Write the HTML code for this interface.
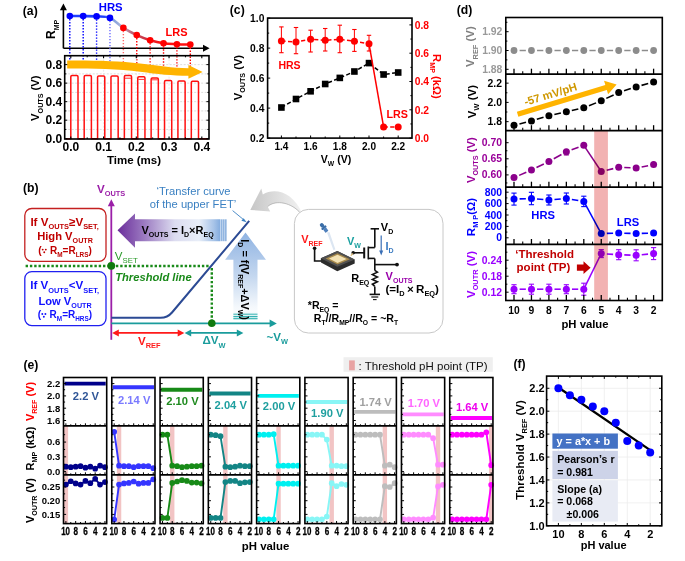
<!DOCTYPE html>
<html><head><meta charset="utf-8"><title>Figure</title><style>html,body{margin:0;padding:0;background:#fff;width:685px;height:561px;overflow:hidden;}svg{display:block;font-family:"Liberation Sans", sans-serif;}</style></head><body>
<svg width="685" height="561" viewBox="0 0 685 561" font-family='"Liberation Sans", sans-serif'><defs><linearGradient id="ga" x1="63" y1="0" x2="210" y2="0" gradientUnits="userSpaceOnUse"><stop offset="0.28" stop-color="#1f3fff"/><stop offset="0.34" stop-color="#7f9fdf"/><stop offset="0.40" stop-color="#b0b8d8"/><stop offset="0.47" stop-color="#c06070"/><stop offset="0.56" stop-color="#d03040"/><stop offset="0.66" stop-color="#ff1010"/></linearGradient><linearGradient id="gp" x1="117" y1="0" x2="222" y2="0" gradientUnits="userSpaceOnUse"><stop offset="0" stop-color="#6a2c9a"/><stop offset="0.25" stop-color="#9a78c0"/><stop offset="0.55" stop-color="#dcdcf0"/><stop offset="0.78" stop-color="#e8eef8"/><stop offset="0.92" stop-color="#a8c4e8"/><stop offset="1" stop-color="#7aa6dc"/></linearGradient><linearGradient id="gu" x1="0" y1="232" x2="0" y2="320" gradientUnits="userSpaceOnUse"><stop offset="0" stop-color="#8fb3e2"/><stop offset="0.5" stop-color="#c4d7ef"/><stop offset="0.85" stop-color="#f4f8fc"/><stop offset="1" stop-color="#ffffff"/></linearGradient><linearGradient id="gt" x1="0" y1="310" x2="0" y2="319.3" gradientUnits="userSpaceOnUse"><stop offset="0" stop-color="#ffffff" stop-opacity="0"/><stop offset="1" stop-color="#a8dede"/></linearGradient><linearGradient id="gg" x1="302" y1="0" x2="250" y2="0" gradientUnits="userSpaceOnUse"><stop offset="0" stop-color="#f2f2f2"/><stop offset="0.6" stop-color="#d8d8d8"/><stop offset="1" stop-color="#c6c6c6"/></linearGradient></defs><rect width="685" height="561" fill="#fff"/><text x="22.8" y="14.6" font-size="12.2" fill="#000" font-weight="bold" text-anchor="start">(a)</text>
<line x1="63.4" y1="48.3" x2="63.4" y2="9" stroke="#000" stroke-width="1.6" />
<polygon points="63.4,3.5 59.9,10.2 66.9,10.2" fill="#000" />
<line x1="63.4" y1="48.3" x2="203.5" y2="48.3" stroke="#000" stroke-width="1.6" />
<polygon points="209.6,48.3 203,44.8 203,51.8" fill="#000" />
<text x="55.4" y="29.4" font-size="12" fill="#000" font-weight="bold" text-anchor="middle" transform="rotate(-90 55.4 29.4)"><tspan font-size="12">R</tspan><tspan dy="3.36" font-size="6.96">MP</tspan></text>
<line x1="69.8" y1="16" x2="69.8" y2="61.5" stroke="#0000ff" stroke-width="1.4" stroke-dasharray="1.4 1.6"/>
<line x1="83.19" y1="16.1" x2="83.19" y2="61.8" stroke="#0000ff" stroke-width="1.4" stroke-dasharray="1.4 1.6"/>
<line x1="96.58" y1="16.4" x2="96.58" y2="62.2" stroke="#0000ff" stroke-width="1.4" stroke-dasharray="1.4 1.6"/>
<line x1="109.97" y1="17.9" x2="109.97" y2="62.6" stroke="#6a6aff" stroke-width="1.4" stroke-dasharray="1.4 1.6"/>
<line x1="123.36" y1="27.9" x2="123.36" y2="63.5" stroke="#ff6a6a" stroke-width="1.4" stroke-dasharray="1.4 1.6"/>
<line x1="136.75" y1="35.1" x2="136.75" y2="64.6" stroke="#ff0000" stroke-width="1.4" stroke-dasharray="1.4 1.6"/>
<line x1="150.14" y1="40.2" x2="150.14" y2="65.6" stroke="#ff0000" stroke-width="1.4" stroke-dasharray="1.4 1.6"/>
<line x1="163.53" y1="43.3" x2="163.53" y2="66.8" stroke="#ff0000" stroke-width="1.4" stroke-dasharray="1.4 1.6"/>
<line x1="176.92" y1="44.2" x2="176.92" y2="68" stroke="#ff0000" stroke-width="1.4" stroke-dasharray="1.4 1.6"/>
<line x1="190.31" y1="44.6" x2="190.31" y2="69" stroke="#ff0000" stroke-width="1.4" stroke-dasharray="1.4 1.6"/>
<path d="M69.8 16 C72.03 16.02 78.73 16.03 83.19 16.1 C87.65 16.17 92.12 16.1 96.58 16.4 C101.04 16.7 105.51 15.98 109.97 17.9 C114.43 19.82 118.9 25.03 123.36 27.9 C127.82 30.77 132.29 33.05 136.75 35.1 C141.21 37.15 145.68 38.83 150.14 40.2 C154.6 41.57 159.07 42.63 163.53 43.3 C167.99 43.97 172.46 43.98 176.92 44.2 C181.38 44.42 188.08 44.53 190.31 44.6" fill="none" stroke="url(#ga)" stroke-width="2.6" />
<circle cx="69.8" cy="16" r="3.3" fill="#0000ff" />
<circle cx="83.19" cy="16.1" r="3.3" fill="#0000ff" />
<circle cx="96.58" cy="16.4" r="3.3" fill="#0000ff" />
<circle cx="109.97" cy="17.9" r="3.3" fill="#0000ff" />
<circle cx="123.36" cy="27.9" r="3.3" fill="#ff0000" />
<circle cx="136.75" cy="35.1" r="3.3" fill="#ff0000" />
<circle cx="150.14" cy="40.2" r="3.3" fill="#ff0000" />
<circle cx="163.53" cy="43.3" r="3.3" fill="#ff0000" />
<circle cx="176.92" cy="44.2" r="3.3" fill="#ff0000" />
<circle cx="190.31" cy="44.6" r="3.3" fill="#ff0000" />
<text x="98.8" y="10.8" font-size="11.3" fill="#0000ff" font-weight="bold" text-anchor="start">HRS</text>
<text x="165.6" y="35.8" font-size="11" fill="#ff0000" font-weight="bold" text-anchor="start">LRS</text>
<line x1="64.7" y1="129.44" x2="209" y2="129.44" stroke="#cfcfcf" stroke-width="0.7" stroke-dasharray="2 1.5"/>
<line x1="64.7" y1="120.18" x2="209" y2="120.18" stroke="#cfcfcf" stroke-width="0.7" stroke-dasharray="2 1.5"/>
<line x1="64.7" y1="110.92" x2="209" y2="110.92" stroke="#cfcfcf" stroke-width="0.7" stroke-dasharray="2 1.5"/>
<line x1="64.7" y1="101.66" x2="209" y2="101.66" stroke="#cfcfcf" stroke-width="0.7" stroke-dasharray="2 1.5"/>
<line x1="64.7" y1="92.4" x2="209" y2="92.4" stroke="#cfcfcf" stroke-width="0.7" stroke-dasharray="2 1.5"/>
<line x1="64.7" y1="83.14" x2="209" y2="83.14" stroke="#cfcfcf" stroke-width="0.7" stroke-dasharray="2 1.5"/>
<line x1="64.7" y1="73.88" x2="209" y2="73.88" stroke="#cfcfcf" stroke-width="0.7" stroke-dasharray="2 1.5"/>
<line x1="64.7" y1="64.62" x2="209" y2="64.62" stroke="#cfcfcf" stroke-width="0.7" stroke-dasharray="2 1.5"/>
<line x1="103.55" y1="55.7" x2="103.55" y2="139" stroke="#e0e0e0" stroke-width="0.7" stroke-dasharray="2 1.5"/>
<line x1="136.3" y1="55.7" x2="136.3" y2="139" stroke="#e0e0e0" stroke-width="0.7" stroke-dasharray="2 1.5"/>
<line x1="169.05" y1="55.7" x2="169.05" y2="139" stroke="#e0e0e0" stroke-width="0.7" stroke-dasharray="2 1.5"/>
<path d="M65.5 138.7 L70.8 138.7 L70.8 76.8 Q70.8 75.6 72 75.6 L76.8 75.6 Q78 75.6 78 76.8 L78 138.7 L84.19 138.7 L84.19 76.8 Q84.19 75.6 85.39 75.6 L90.19 75.6 Q91.39 75.6 91.39 76.8 L91.39 138.7 L97.58 138.7 L97.58 77.1 Q97.58 75.9 98.78 75.9 L103.58 75.9 Q104.78 75.9 104.78 77.1 L104.78 138.7 L110.97 138.7 L110.97 77.2 Q110.97 76 112.17 76 L116.97 76 Q118.17 76 118.17 77.2 L118.17 138.7 L124.36 138.7 L124.36 76.7 Q124.36 75.5 125.56 75.5 L130.36 75.5 Q131.56 75.5 131.56 76.7 L131.56 138.7 L137.75 138.7 L137.75 78 Q137.75 76.8 138.95 76.8 L143.75 76.8 Q144.95 76.8 144.95 78 L144.95 138.7 L151.14 138.7 L151.14 79.2 Q151.14 78 152.34 78 L157.14 78 Q158.34 78 158.34 79.2 L158.34 138.7 L164.53 138.7 L164.53 81.8 Q164.53 80.6 165.73 80.6 L170.53 80.6 Q171.73 80.6 171.73 81.8 L171.73 138.7 L177.92 138.7 L177.92 82.2 Q177.92 81 179.12 81 L183.92 81 Q185.12 81 185.12 82.2 L185.12 138.7 L191.31 138.7 L191.31 82.5 Q191.31 81.3 192.51 81.3 L197.31 81.3 Q198.51 81.3 198.51 82.5 L198.51 138.7 L208.2 138.7" fill="none" stroke="#ff1010" stroke-width="1.5" />
<line x1="124.96" y1="78.2" x2="130.96" y2="78.2" stroke="#ff1a1a" stroke-width="0.9" />
<line x1="138.35" y1="79.4" x2="144.35" y2="79.4" stroke="#ff1a1a" stroke-width="0.9" />
<line x1="151.74" y1="79.8" x2="157.74" y2="79.8" stroke="#ff1a1a" stroke-width="0.9" />
<path d="M67.2 60.6 C95 60.4 118 61.0 140 63.5 C158 65.6 172 68.0 188.4 68.2 L188.4 65.0 L202.6 71.9 L188.4 78.8 L188.4 75.8 C172 75.8 158 74.2 140 71.8 C118 69.0 95 68.6 67.2 68.6 Z" fill="#ffb400" stroke="none" stroke-width="1" />
<rect x="64.7" y="55.7" width="144.3" height="83.3" fill="none" stroke="#000" stroke-width="1.6" rx="0" />
<line x1="70.8" y1="139" x2="70.8" y2="136.4" stroke="#000" stroke-width="1.1" />
<line x1="70.8" y1="55.7" x2="70.8" y2="58.3" stroke="#000" stroke-width="1.1" />
<line x1="87.2" y1="139" x2="87.2" y2="137.4" stroke="#000" stroke-width="1" />
<line x1="87.2" y1="55.7" x2="87.2" y2="57.3" stroke="#000" stroke-width="1" />
<line x1="103.55" y1="139" x2="103.55" y2="136.4" stroke="#000" stroke-width="1.1" />
<line x1="103.55" y1="55.7" x2="103.55" y2="58.3" stroke="#000" stroke-width="1.1" />
<line x1="119.95" y1="139" x2="119.95" y2="137.4" stroke="#000" stroke-width="1" />
<line x1="119.95" y1="55.7" x2="119.95" y2="57.3" stroke="#000" stroke-width="1" />
<line x1="136.3" y1="139" x2="136.3" y2="136.4" stroke="#000" stroke-width="1.1" />
<line x1="136.3" y1="55.7" x2="136.3" y2="58.3" stroke="#000" stroke-width="1.1" />
<line x1="152.7" y1="139" x2="152.7" y2="137.4" stroke="#000" stroke-width="1" />
<line x1="152.7" y1="55.7" x2="152.7" y2="57.3" stroke="#000" stroke-width="1" />
<line x1="169.05" y1="139" x2="169.05" y2="136.4" stroke="#000" stroke-width="1.1" />
<line x1="169.05" y1="55.7" x2="169.05" y2="58.3" stroke="#000" stroke-width="1.1" />
<line x1="185.45" y1="139" x2="185.45" y2="137.4" stroke="#000" stroke-width="1" />
<line x1="185.45" y1="55.7" x2="185.45" y2="57.3" stroke="#000" stroke-width="1" />
<line x1="201.8" y1="139" x2="201.8" y2="136.4" stroke="#000" stroke-width="1.1" />
<line x1="201.8" y1="55.7" x2="201.8" y2="58.3" stroke="#000" stroke-width="1.1" />
<line x1="64.7" y1="138.7" x2="67.3" y2="138.7" stroke="#000" stroke-width="1" />
<line x1="209" y1="138.7" x2="206.4" y2="138.7" stroke="#000" stroke-width="1" />
<line x1="64.7" y1="129.44" x2="66.3" y2="129.44" stroke="#000" stroke-width="1" />
<line x1="209" y1="129.44" x2="207.4" y2="129.44" stroke="#000" stroke-width="1" />
<line x1="64.7" y1="120.18" x2="67.3" y2="120.18" stroke="#000" stroke-width="1" />
<line x1="209" y1="120.18" x2="206.4" y2="120.18" stroke="#000" stroke-width="1" />
<line x1="64.7" y1="110.92" x2="66.3" y2="110.92" stroke="#000" stroke-width="1" />
<line x1="209" y1="110.92" x2="207.4" y2="110.92" stroke="#000" stroke-width="1" />
<line x1="64.7" y1="101.66" x2="67.3" y2="101.66" stroke="#000" stroke-width="1" />
<line x1="209" y1="101.66" x2="206.4" y2="101.66" stroke="#000" stroke-width="1" />
<line x1="64.7" y1="92.4" x2="66.3" y2="92.4" stroke="#000" stroke-width="1" />
<line x1="209" y1="92.4" x2="207.4" y2="92.4" stroke="#000" stroke-width="1" />
<line x1="64.7" y1="83.14" x2="67.3" y2="83.14" stroke="#000" stroke-width="1" />
<line x1="209" y1="83.14" x2="206.4" y2="83.14" stroke="#000" stroke-width="1" />
<line x1="64.7" y1="73.88" x2="66.3" y2="73.88" stroke="#000" stroke-width="1" />
<line x1="209" y1="73.88" x2="207.4" y2="73.88" stroke="#000" stroke-width="1" />
<line x1="64.7" y1="64.62" x2="67.3" y2="64.62" stroke="#000" stroke-width="1" />
<line x1="209" y1="64.62" x2="206.4" y2="64.62" stroke="#000" stroke-width="1" />
<text x="62.2" y="143" font-size="12" fill="#000" font-weight="bold" text-anchor="end">0.0</text>
<text x="62.2" y="124.48" font-size="12" fill="#000" font-weight="bold" text-anchor="end">0.2</text>
<text x="62.2" y="105.96" font-size="12" fill="#000" font-weight="bold" text-anchor="end">0.4</text>
<text x="62.2" y="87.44" font-size="12" fill="#000" font-weight="bold" text-anchor="end">0.6</text>
<text x="62.2" y="68.92" font-size="12" fill="#000" font-weight="bold" text-anchor="end">0.8</text>
<text x="70.8" y="151" font-size="12" fill="#000" font-weight="bold" text-anchor="middle">0.0</text>
<text x="103.55" y="151" font-size="12" fill="#000" font-weight="bold" text-anchor="middle">0.1</text>
<text x="136.3" y="151" font-size="12" fill="#000" font-weight="bold" text-anchor="middle">0.2</text>
<text x="169.05" y="151" font-size="12" fill="#000" font-weight="bold" text-anchor="middle">0.3</text>
<text x="201.8" y="151" font-size="12" fill="#000" font-weight="bold" text-anchor="middle">0.4</text>
<text x="134" y="163.6" font-size="11.5" fill="#000" font-weight="bold" text-anchor="middle">Time (ms)</text>
<text x="39.4" y="98.2" font-size="11.2" fill="#000" font-weight="bold" text-anchor="middle" transform="rotate(-90 39.4 98.2)"><tspan font-size="11.2">V</tspan><tspan dy="3.14" font-size="7.17">OUTS</tspan><tspan dy="-3.14" font-size="11.2"> (V)</tspan></text>
<text x="229.8" y="13.6" font-size="12.2" fill="#000" font-weight="bold" text-anchor="start">(c)</text>
<polyline points="281.4,107.5 296,99 310.6,91.3 325.2,84 339.8,77.9 354.4,71.5 369,63.1 383.6,74.5 398.2,72.5" fill="none" stroke="#000" stroke-width="1.5" stroke-dasharray="4.2 2.4"/>
<rect x="278.1" y="104.2" width="6.6" height="6.6" fill="#000" stroke="none" stroke-width="1" rx="0" />
<rect x="292.7" y="95.7" width="6.6" height="6.6" fill="#000" stroke="none" stroke-width="1" rx="0" />
<rect x="307.3" y="88" width="6.6" height="6.6" fill="#000" stroke="none" stroke-width="1" rx="0" />
<rect x="321.9" y="80.7" width="6.6" height="6.6" fill="#000" stroke="none" stroke-width="1" rx="0" />
<rect x="336.5" y="74.6" width="6.6" height="6.6" fill="#000" stroke="none" stroke-width="1" rx="0" />
<rect x="351.1" y="68.2" width="6.6" height="6.6" fill="#000" stroke="none" stroke-width="1" rx="0" />
<rect x="365.7" y="59.8" width="6.6" height="6.6" fill="#000" stroke="none" stroke-width="1" rx="0" />
<rect x="380.3" y="71.2" width="6.6" height="6.6" fill="#000" stroke="none" stroke-width="1" rx="0" />
<rect x="394.9" y="69.2" width="6.6" height="6.6" fill="#000" stroke="none" stroke-width="1" rx="0" />
<polyline points="281.4,41 296,42 310.6,39.3 325.2,40.3 339.8,39.3 354.4,41.3 369,43.7" fill="none" stroke="#ff0000" stroke-width="1.5" stroke-dasharray="4.2 2.4"/>
<line x1="369" y1="43.7" x2="383.6" y2="126.9" stroke="#ff0000" stroke-width="1.5" />
<line x1="383.6" y1="126.9" x2="398.2" y2="126.9" stroke="#ff0000" stroke-width="1.5" stroke-dasharray="4.2 2.4"/>
<line x1="281.4" y1="26.9" x2="281.4" y2="52.7" stroke="#ff0000" stroke-width="1" />
<line x1="279.2" y1="26.9" x2="283.6" y2="26.9" stroke="#ff0000" stroke-width="1.1" />
<line x1="279.2" y1="52.7" x2="283.6" y2="52.7" stroke="#ff0000" stroke-width="1.1" />
<circle cx="281.4" cy="41" r="3.5" fill="#ff0000" />
<line x1="296" y1="27.5" x2="296" y2="53.7" stroke="#ff0000" stroke-width="1" />
<line x1="293.8" y1="27.5" x2="298.2" y2="27.5" stroke="#ff0000" stroke-width="1.1" />
<line x1="293.8" y1="53.7" x2="298.2" y2="53.7" stroke="#ff0000" stroke-width="1.1" />
<circle cx="296" cy="42" r="3.5" fill="#ff0000" />
<line x1="310.6" y1="30.2" x2="310.6" y2="52" stroke="#ff0000" stroke-width="1" />
<line x1="308.4" y1="30.2" x2="312.8" y2="30.2" stroke="#ff0000" stroke-width="1.1" />
<line x1="308.4" y1="52" x2="312.8" y2="52" stroke="#ff0000" stroke-width="1.1" />
<circle cx="310.6" cy="39.3" r="3.5" fill="#ff0000" />
<line x1="325.2" y1="28.5" x2="325.2" y2="51" stroke="#ff0000" stroke-width="1" />
<line x1="323" y1="28.5" x2="327.4" y2="28.5" stroke="#ff0000" stroke-width="1.1" />
<line x1="323" y1="51" x2="327.4" y2="51" stroke="#ff0000" stroke-width="1.1" />
<circle cx="325.2" cy="40.3" r="3.5" fill="#ff0000" />
<line x1="339.8" y1="25.2" x2="339.8" y2="52.7" stroke="#ff0000" stroke-width="1" />
<line x1="337.6" y1="25.2" x2="342" y2="25.2" stroke="#ff0000" stroke-width="1.1" />
<line x1="337.6" y1="52.7" x2="342" y2="52.7" stroke="#ff0000" stroke-width="1.1" />
<circle cx="339.8" cy="39.3" r="3.5" fill="#ff0000" />
<line x1="354.4" y1="29.5" x2="354.4" y2="51.4" stroke="#ff0000" stroke-width="1" />
<line x1="352.2" y1="29.5" x2="356.6" y2="29.5" stroke="#ff0000" stroke-width="1.1" />
<line x1="352.2" y1="51.4" x2="356.6" y2="51.4" stroke="#ff0000" stroke-width="1.1" />
<circle cx="354.4" cy="41.3" r="3.5" fill="#ff0000" />
<line x1="369" y1="35.3" x2="369" y2="51" stroke="#ff0000" stroke-width="1" />
<line x1="366.8" y1="35.3" x2="371.2" y2="35.3" stroke="#ff0000" stroke-width="1.1" />
<line x1="366.8" y1="51" x2="371.2" y2="51" stroke="#ff0000" stroke-width="1.1" />
<circle cx="369" cy="43.7" r="3.5" fill="#ff0000" />
<circle cx="383.6" cy="126.9" r="3.5" fill="#ff0000" />
<circle cx="398.2" cy="126.9" r="3.5" fill="#ff0000" />
<text x="278.4" y="69.2" font-size="11.2" fill="#ff0000" font-weight="bold" text-anchor="start" transform="translate(278.4 69.2) scale(0.94 1) translate(-278.4 -69.2)">HRS</text>
<text x="386.5" y="117.8" font-size="11.2" fill="#ff0000" font-weight="bold" text-anchor="start" transform="translate(386.5 117.8) scale(0.96 1) translate(-386.5 -117.8)">LRS</text>
<rect x="267.6" y="18.1" width="144.4" height="120" fill="none" stroke="#000" stroke-width="1.6" rx="0" />
<line x1="281.4" y1="138.1" x2="281.4" y2="135.5" stroke="#000" stroke-width="1" />
<line x1="296" y1="138.1" x2="296" y2="136.5" stroke="#000" stroke-width="1" />
<line x1="310.6" y1="138.1" x2="310.6" y2="135.5" stroke="#000" stroke-width="1" />
<line x1="325.2" y1="138.1" x2="325.2" y2="136.5" stroke="#000" stroke-width="1" />
<line x1="339.8" y1="138.1" x2="339.8" y2="135.5" stroke="#000" stroke-width="1" />
<line x1="354.4" y1="138.1" x2="354.4" y2="136.5" stroke="#000" stroke-width="1" />
<line x1="369" y1="138.1" x2="369" y2="135.5" stroke="#000" stroke-width="1" />
<line x1="383.6" y1="138.1" x2="383.6" y2="136.5" stroke="#000" stroke-width="1" />
<line x1="398.2" y1="138.1" x2="398.2" y2="135.5" stroke="#000" stroke-width="1" />
<line x1="267.6" y1="138.1" x2="270.2" y2="138.1" stroke="#000" stroke-width="1" />
<line x1="267.6" y1="123.1" x2="269.2" y2="123.1" stroke="#000" stroke-width="1" />
<line x1="267.6" y1="108.1" x2="270.2" y2="108.1" stroke="#000" stroke-width="1" />
<line x1="267.6" y1="93.1" x2="269.2" y2="93.1" stroke="#000" stroke-width="1" />
<line x1="267.6" y1="78.1" x2="270.2" y2="78.1" stroke="#000" stroke-width="1" />
<line x1="267.6" y1="63.1" x2="269.2" y2="63.1" stroke="#000" stroke-width="1" />
<line x1="267.6" y1="48.1" x2="270.2" y2="48.1" stroke="#000" stroke-width="1" />
<line x1="267.6" y1="33.1" x2="269.2" y2="33.1" stroke="#000" stroke-width="1" />
<line x1="267.6" y1="18.1" x2="270.2" y2="18.1" stroke="#000" stroke-width="1" />
<line x1="412" y1="138.1" x2="409.4" y2="138.1" stroke="#000" stroke-width="1" />
<line x1="412" y1="123.95" x2="410.4" y2="123.95" stroke="#000" stroke-width="1" />
<line x1="412" y1="109.8" x2="409.4" y2="109.8" stroke="#000" stroke-width="1" />
<line x1="412" y1="95.65" x2="410.4" y2="95.65" stroke="#000" stroke-width="1" />
<line x1="412" y1="81.5" x2="409.4" y2="81.5" stroke="#000" stroke-width="1" />
<line x1="412" y1="67.35" x2="410.4" y2="67.35" stroke="#000" stroke-width="1" />
<line x1="412" y1="53.2" x2="409.4" y2="53.2" stroke="#000" stroke-width="1" />
<line x1="412" y1="39.05" x2="410.4" y2="39.05" stroke="#000" stroke-width="1" />
<line x1="412" y1="24.9" x2="409.4" y2="24.9" stroke="#000" stroke-width="1" />
<text x="264.4" y="142" font-size="11.3" fill="#000" font-weight="bold" text-anchor="end" transform="translate(264.4 142) scale(0.91 1) translate(-264.4 -142)">0.2</text>
<text x="264.4" y="112" font-size="11.3" fill="#000" font-weight="bold" text-anchor="end" transform="translate(264.4 112) scale(0.91 1) translate(-264.4 -112)">0.4</text>
<text x="264.4" y="82" font-size="11.3" fill="#000" font-weight="bold" text-anchor="end" transform="translate(264.4 82) scale(0.91 1) translate(-264.4 -82)">0.6</text>
<text x="264.4" y="52" font-size="11.3" fill="#000" font-weight="bold" text-anchor="end" transform="translate(264.4 52) scale(0.91 1) translate(-264.4 -52)">0.8</text>
<text x="264.4" y="22" font-size="11.3" fill="#000" font-weight="bold" text-anchor="end" transform="translate(264.4 22) scale(0.91 1) translate(-264.4 -22)">1.0</text>
<text x="414.8" y="142" font-size="11.3" fill="#ff0000" font-weight="bold" text-anchor="start" transform="translate(414.8 142) scale(0.91 1) translate(-414.8 -142)">0.0</text>
<text x="414.8" y="113.7" font-size="11.3" fill="#ff0000" font-weight="bold" text-anchor="start" transform="translate(414.8 113.7) scale(0.91 1) translate(-414.8 -113.7)">0.2</text>
<text x="414.8" y="85.4" font-size="11.3" fill="#ff0000" font-weight="bold" text-anchor="start" transform="translate(414.8 85.4) scale(0.91 1) translate(-414.8 -85.4)">0.4</text>
<text x="414.8" y="57.1" font-size="11.3" fill="#ff0000" font-weight="bold" text-anchor="start" transform="translate(414.8 57.1) scale(0.91 1) translate(-414.8 -57.1)">0.6</text>
<text x="414.8" y="28.8" font-size="11.3" fill="#ff0000" font-weight="bold" text-anchor="start" transform="translate(414.8 28.8) scale(0.91 1) translate(-414.8 -28.8)">0.8</text>
<text x="281.4" y="150.1" font-size="11.2" fill="#000" font-weight="bold" text-anchor="middle" transform="translate(281.4 150.1) scale(0.9 1) translate(-281.4 -150.1)">1.4</text>
<text x="310.6" y="150.1" font-size="11.2" fill="#000" font-weight="bold" text-anchor="middle" transform="translate(310.6 150.1) scale(0.9 1) translate(-310.6 -150.1)">1.6</text>
<text x="339.8" y="150.1" font-size="11.2" fill="#000" font-weight="bold" text-anchor="middle" transform="translate(339.8 150.1) scale(0.9 1) translate(-339.8 -150.1)">1.8</text>
<text x="369" y="150.1" font-size="11.2" fill="#000" font-weight="bold" text-anchor="middle" transform="translate(369 150.1) scale(0.9 1) translate(-369 -150.1)">2.0</text>
<text x="398.2" y="150.1" font-size="11.2" fill="#000" font-weight="bold" text-anchor="middle" transform="translate(398.2 150.1) scale(0.9 1) translate(-398.2 -150.1)">2.2</text>
<text x="336" y="162.8" font-size="11.4" fill="#000" font-weight="bold" text-anchor="middle" transform="translate(336 162.8) scale(0.93 1) translate(-336 -162.8)"><tspan font-size="11.4">V</tspan><tspan dy="3.19" font-size="7.3">W</tspan><tspan dy="-3.19" font-size="11.4"> (V)</tspan></text>
<text x="241.9" y="77.6" font-size="11.2" fill="#000" font-weight="bold" text-anchor="middle" transform="rotate(-90 241.9 77.6)"><tspan font-size="11.2">V</tspan><tspan dy="3.14" font-size="7.17">OUTS</tspan><tspan dy="-3.14" font-size="11.2"> (V)</tspan></text>
<text x="432.8" y="76.4" font-size="11.2" fill="#ff0000" font-weight="bold" text-anchor="middle" transform="rotate(90 432.8 76.4)"><tspan font-size="11.2">R</tspan><tspan dy="3.14" font-size="7.17">MP</tspan><tspan dy="-3.14" font-size="11.2"> (kΩ)</tspan></text>
<text x="456.8" y="14" font-size="12.2" fill="#000" font-weight="bold" text-anchor="start">(d)</text>
<line x1="519.6" y1="50.5" x2="525.85" y2="50.5" stroke="#8c8c8c" stroke-width="1.5" />
<line x1="537.05" y1="50.5" x2="543.3" y2="50.5" stroke="#8c8c8c" stroke-width="1.5" />
<line x1="554.5" y1="50.5" x2="560.75" y2="50.5" stroke="#8c8c8c" stroke-width="1.5" />
<line x1="571.95" y1="50.5" x2="578.2" y2="50.5" stroke="#8c8c8c" stroke-width="1.5" />
<line x1="589.4" y1="50.5" x2="595.65" y2="50.5" stroke="#8c8c8c" stroke-width="1.5" />
<line x1="606.85" y1="50.5" x2="613.1" y2="50.5" stroke="#8c8c8c" stroke-width="1.5" />
<line x1="624.3" y1="50.5" x2="630.55" y2="50.5" stroke="#8c8c8c" stroke-width="1.5" />
<line x1="641.75" y1="50.5" x2="648" y2="50.5" stroke="#8c8c8c" stroke-width="1.5" />
<circle cx="514" cy="50.5" r="3.4" fill="#8c8c8c" />
<circle cx="531.45" cy="50.5" r="3.4" fill="#8c8c8c" />
<circle cx="548.9" cy="50.5" r="3.4" fill="#8c8c8c" />
<circle cx="566.35" cy="50.5" r="3.4" fill="#8c8c8c" />
<circle cx="583.8" cy="50.5" r="3.4" fill="#8c8c8c" />
<circle cx="601.25" cy="50.5" r="3.4" fill="#8c8c8c" />
<circle cx="618.7" cy="50.5" r="3.4" fill="#8c8c8c" />
<circle cx="636.15" cy="50.5" r="3.4" fill="#8c8c8c" />
<circle cx="653.6" cy="50.5" r="3.4" fill="#8c8c8c" />
<text x="502.4" y="35.2" font-size="10.4" fill="#999999" font-weight="bold" text-anchor="end">1.92</text>
<text x="502.4" y="54" font-size="10.4" fill="#999999" font-weight="bold" text-anchor="end">1.90</text>
<text x="502.4" y="72.8" font-size="10.4" fill="#999999" font-weight="bold" text-anchor="end">1.88</text>
<text x="474.4" y="46.6" font-size="11.5" fill="#808080" font-weight="bold" text-anchor="middle" transform="rotate(-90 474.4 46.6)"><tspan font-size="11.5">V</tspan><tspan dy="3.22" font-size="7.36">REF</tspan><tspan dy="-3.22" font-size="11.5"> (V)</tspan></text>
<line x1="519.43" y1="123.93" x2="526.02" y2="122.27" stroke="#000" stroke-width="1.6" />
<line x1="536.82" y1="119.3" x2="543.53" y2="117.3" stroke="#000" stroke-width="1.6" />
<line x1="554.36" y1="114.45" x2="560.89" y2="112.95" stroke="#000" stroke-width="1.6" />
<line x1="571.82" y1="110.48" x2="578.33" y2="109.02" stroke="#000" stroke-width="1.6" />
<line x1="589" y1="105.72" x2="596.05" y2="102.88" stroke="#000" stroke-width="1.6" />
<line x1="606.31" y1="98.39" x2="613.64" y2="94.91" stroke="#000" stroke-width="1.6" />
<line x1="624.03" y1="90.79" x2="630.82" y2="88.61" stroke="#000" stroke-width="1.6" />
<line x1="641.54" y1="85.39" x2="648.21" y2="83.51" stroke="#000" stroke-width="1.6" />
<circle cx="514" cy="125.3" r="3.5" fill="#000" />
<circle cx="531.45" cy="120.9" r="3.5" fill="#000" />
<circle cx="548.9" cy="115.7" r="3.5" fill="#000" />
<circle cx="566.35" cy="111.7" r="3.5" fill="#000" />
<circle cx="583.8" cy="107.8" r="3.5" fill="#000" />
<circle cx="601.25" cy="100.8" r="3.5" fill="#000" />
<circle cx="618.7" cy="92.5" r="3.5" fill="#000" />
<circle cx="636.15" cy="86.9" r="3.5" fill="#000" />
<circle cx="653.6" cy="82" r="3.5" fill="#000" />
<text x="502" y="86.65" font-size="10.4" fill="#000" font-weight="bold" text-anchor="end">2.2</text>
<text x="502" y="105.9" font-size="10.4" fill="#000" font-weight="bold" text-anchor="end">2.0</text>
<text x="502" y="125.15" font-size="10.4" fill="#000" font-weight="bold" text-anchor="end">1.8</text>
<text x="476" y="101.6" font-size="11.5" fill="#000" font-weight="bold" text-anchor="middle" transform="rotate(-90 476 101.6)"><tspan font-size="11.5">V</tspan><tspan dy="3.22" font-size="7.36">W</tspan><tspan dy="-3.22" font-size="11.5"> (V)</tspan></text>
<g transform="translate(517.6 114.2) rotate(-16.75)">
<polygon points="0,-2.6 92.39,-2.6 92.39,-7 103.39,0 92.39,7 92.39,2.6 0,2.6" fill="#ffb400" />
</g>
<text x="525.4" y="105.8" font-size="11.2" fill="#cf9800" font-weight="bold" text-anchor="start" transform="rotate(-16.75 525.4 105.8)">-57 mV/pH</text>
<line x1="519.13" y1="175.36" x2="526.32" y2="172.24" stroke="#8b008b" stroke-width="1.6" />
<line x1="536.48" y1="167.55" x2="543.87" y2="163.95" stroke="#8b008b" stroke-width="1.6" />
<line x1="553.79" y1="158.78" x2="561.46" y2="154.52" stroke="#8b008b" stroke-width="1.6" />
<line x1="571.6" y1="149.85" x2="578.55" y2="147.25" stroke="#8b008b" stroke-width="1.6" />
<line x1="583.8" y1="145.3" x2="601.25" y2="171.5" stroke="#8b008b" stroke-width="1.5" />
<line x1="606.69" y1="170.19" x2="613.26" y2="168.61" stroke="#8b008b" stroke-width="1.6" />
<line x1="624.3" y1="167.52" x2="630.55" y2="167.78" stroke="#8b008b" stroke-width="1.6" />
<line x1="641.65" y1="166.93" x2="648.1" y2="165.67" stroke="#8b008b" stroke-width="1.6" />
<line x1="566.35" y1="149" x2="566.35" y2="155" stroke="#8b008b" stroke-width="1" />
<line x1="563.85" y1="155" x2="568.85" y2="155" stroke="#8b008b" stroke-width="1" />
<circle cx="514" cy="177.6" r="3.5" fill="#8b008b" />
<circle cx="531.45" cy="170" r="3.5" fill="#8b008b" />
<circle cx="548.9" cy="161.5" r="3.5" fill="#8b008b" />
<circle cx="566.35" cy="151.8" r="3.5" fill="#8b008b" />
<circle cx="583.8" cy="145.3" r="3.5" fill="#8b008b" />
<circle cx="601.25" cy="171.5" r="3.5" fill="#8b008b" />
<circle cx="618.7" cy="167.3" r="3.5" fill="#8b008b" />
<circle cx="636.15" cy="168" r="3.5" fill="#8b008b" />
<circle cx="653.6" cy="164.6" r="3.5" fill="#8b008b" />
<text x="502" y="146.2" font-size="10.4" fill="#990099" font-weight="bold" text-anchor="end">0.70</text>
<text x="502" y="162.3" font-size="10.4" fill="#990099" font-weight="bold" text-anchor="end">0.65</text>
<text x="502" y="178.4" font-size="10.4" fill="#990099" font-weight="bold" text-anchor="end">0.60</text>
<text x="475" y="160.2" font-size="11.3" fill="#990099" font-weight="bold" text-anchor="middle" transform="rotate(-90 475 160.2)"><tspan font-size="11.3">V</tspan><tspan dy="3.16" font-size="7.23">OUTS</tspan><tspan dy="-3.16" font-size="11.3"> (V)</tspan></text>
<line x1="519.6" y1="198.91" x2="525.85" y2="198.69" stroke="#0000ff" stroke-width="1.6" />
<line x1="537.03" y1="198.98" x2="543.32" y2="199.52" stroke="#0000ff" stroke-width="1.6" />
<line x1="554.48" y1="199.52" x2="560.77" y2="198.98" stroke="#0000ff" stroke-width="1.6" />
<line x1="571.87" y1="199.42" x2="578.28" y2="200.48" stroke="#0000ff" stroke-width="1.6" />
<line x1="583.8" y1="201.4" x2="601.25" y2="233.6" stroke="#0000ff" stroke-width="1.5" />
<line x1="606.85" y1="233.41" x2="613.1" y2="233.19" stroke="#0000ff" stroke-width="1.6" />
<line x1="624.3" y1="233.19" x2="630.55" y2="233.41" stroke="#0000ff" stroke-width="1.6" />
<line x1="641.75" y1="233.41" x2="648" y2="233.19" stroke="#0000ff" stroke-width="1.6" />
<line x1="514" y1="193.1" x2="514" y2="205.1" stroke="#0000ff" stroke-width="1.1" />
<line x1="511.4" y1="193.1" x2="516.6" y2="193.1" stroke="#0000ff" stroke-width="1.1" />
<line x1="511.4" y1="205.1" x2="516.6" y2="205.1" stroke="#0000ff" stroke-width="1.1" />
<circle cx="514" cy="199.1" r="3.5" fill="#0000ff" />
<line x1="531.45" y1="192.3" x2="531.45" y2="204.7" stroke="#0000ff" stroke-width="1.1" />
<line x1="528.85" y1="192.3" x2="534.05" y2="192.3" stroke="#0000ff" stroke-width="1.1" />
<line x1="528.85" y1="204.7" x2="534.05" y2="204.7" stroke="#0000ff" stroke-width="1.1" />
<circle cx="531.45" cy="198.5" r="3.5" fill="#0000ff" />
<line x1="548.9" y1="195" x2="548.9" y2="205" stroke="#0000ff" stroke-width="1.1" />
<line x1="546.3" y1="195" x2="551.5" y2="195" stroke="#0000ff" stroke-width="1.1" />
<line x1="546.3" y1="205" x2="551.5" y2="205" stroke="#0000ff" stroke-width="1.1" />
<circle cx="548.9" cy="200" r="3.5" fill="#0000ff" />
<line x1="566.35" y1="193" x2="566.35" y2="204" stroke="#0000ff" stroke-width="1.1" />
<line x1="563.75" y1="193" x2="568.95" y2="193" stroke="#0000ff" stroke-width="1.1" />
<line x1="563.75" y1="204" x2="568.95" y2="204" stroke="#0000ff" stroke-width="1.1" />
<circle cx="566.35" cy="198.5" r="3.5" fill="#0000ff" />
<line x1="583.8" y1="196.2" x2="583.8" y2="206.6" stroke="#0000ff" stroke-width="1.1" />
<line x1="581.2" y1="196.2" x2="586.4" y2="196.2" stroke="#0000ff" stroke-width="1.1" />
<line x1="581.2" y1="206.6" x2="586.4" y2="206.6" stroke="#0000ff" stroke-width="1.1" />
<circle cx="583.8" cy="201.4" r="3.5" fill="#0000ff" />
<circle cx="601.25" cy="233.6" r="3.5" fill="#0000ff" />
<circle cx="618.7" cy="233" r="3.5" fill="#0000ff" />
<circle cx="636.15" cy="233.6" r="3.5" fill="#0000ff" />
<circle cx="653.6" cy="233" r="3.5" fill="#0000ff" />
<text x="502" y="195.7" font-size="10.4" fill="#0000ff" font-weight="bold" text-anchor="end">800</text>
<text x="502" y="207.1" font-size="10.4" fill="#0000ff" font-weight="bold" text-anchor="end">600</text>
<text x="502" y="218.5" font-size="10.4" fill="#0000ff" font-weight="bold" text-anchor="end">400</text>
<text x="502" y="229.9" font-size="10.4" fill="#0000ff" font-weight="bold" text-anchor="end">200</text>
<text x="502" y="241.3" font-size="10.4" fill="#0000ff" font-weight="bold" text-anchor="end">0</text>
<text x="475" y="217" font-size="11.5" fill="#0000ff" font-weight="bold" text-anchor="middle" transform="rotate(-90 475 217)"><tspan font-size="11.5">R</tspan><tspan dy="3.22" font-size="7.36">M P</tspan><tspan dy="-3.22" font-size="11.5">(Ω)</tspan></text>
<text x="531.3" y="219.1" font-size="11.2" fill="#0000ff" font-weight="bold" text-anchor="start">HRS</text>
<text x="616.8" y="226.2" font-size="11.2" fill="#0000ff" font-weight="bold" text-anchor="start">LRS</text>
<line x1="519.6" y1="289.2" x2="525.85" y2="289.2" stroke="#9900ff" stroke-width="1.6" />
<line x1="537.05" y1="289.2" x2="543.3" y2="289.2" stroke="#9900ff" stroke-width="1.6" />
<line x1="554.5" y1="289.2" x2="560.75" y2="289.2" stroke="#9900ff" stroke-width="1.6" />
<line x1="571.95" y1="289.2" x2="578.2" y2="289.2" stroke="#9900ff" stroke-width="1.6" />
<line x1="583.8" y1="289.2" x2="601.25" y2="253.6" stroke="#9900ff" stroke-width="1.5" />
<line x1="606.84" y1="253.95" x2="613.11" y2="254.35" stroke="#9900ff" stroke-width="1.6" />
<line x1="624.3" y1="254.89" x2="630.55" y2="255.11" stroke="#9900ff" stroke-width="1.6" />
<line x1="641.72" y1="254.76" x2="648.03" y2="254.14" stroke="#9900ff" stroke-width="1.6" />
<line x1="514" y1="284.7" x2="514" y2="293.7" stroke="#9900ff" stroke-width="1.1" />
<line x1="511.4" y1="284.7" x2="516.6" y2="284.7" stroke="#9900ff" stroke-width="1.1" />
<line x1="511.4" y1="293.7" x2="516.6" y2="293.7" stroke="#9900ff" stroke-width="1.1" />
<circle cx="514" cy="289.2" r="3.5" fill="#9900ff" />
<line x1="531.45" y1="284.2" x2="531.45" y2="294.2" stroke="#9900ff" stroke-width="1.1" />
<line x1="528.85" y1="284.2" x2="534.05" y2="284.2" stroke="#9900ff" stroke-width="1.1" />
<line x1="528.85" y1="294.2" x2="534.05" y2="294.2" stroke="#9900ff" stroke-width="1.1" />
<circle cx="531.45" cy="289.2" r="3.5" fill="#9900ff" />
<line x1="548.9" y1="284.2" x2="548.9" y2="294.2" stroke="#9900ff" stroke-width="1.1" />
<line x1="546.3" y1="284.2" x2="551.5" y2="284.2" stroke="#9900ff" stroke-width="1.1" />
<line x1="546.3" y1="294.2" x2="551.5" y2="294.2" stroke="#9900ff" stroke-width="1.1" />
<circle cx="548.9" cy="289.2" r="3.5" fill="#9900ff" />
<line x1="566.35" y1="284.7" x2="566.35" y2="293.7" stroke="#9900ff" stroke-width="1.1" />
<line x1="563.75" y1="284.7" x2="568.95" y2="284.7" stroke="#9900ff" stroke-width="1.1" />
<line x1="563.75" y1="293.7" x2="568.95" y2="293.7" stroke="#9900ff" stroke-width="1.1" />
<circle cx="566.35" cy="289.2" r="3.5" fill="#9900ff" />
<line x1="583.8" y1="283.2" x2="583.8" y2="295.2" stroke="#9900ff" stroke-width="1.1" />
<line x1="581.2" y1="283.2" x2="586.4" y2="283.2" stroke="#9900ff" stroke-width="1.1" />
<line x1="581.2" y1="295.2" x2="586.4" y2="295.2" stroke="#9900ff" stroke-width="1.1" />
<circle cx="583.8" cy="289.2" r="3.5" fill="#9900ff" />
<line x1="601.25" y1="249.6" x2="601.25" y2="257.6" stroke="#9900ff" stroke-width="1.1" />
<line x1="598.65" y1="249.6" x2="603.85" y2="249.6" stroke="#9900ff" stroke-width="1.1" />
<line x1="598.65" y1="257.6" x2="603.85" y2="257.6" stroke="#9900ff" stroke-width="1.1" />
<circle cx="601.25" cy="253.6" r="3.5" fill="#9900ff" />
<line x1="618.7" y1="249.7" x2="618.7" y2="259.7" stroke="#9900ff" stroke-width="1.1" />
<line x1="616.1" y1="249.7" x2="621.3" y2="249.7" stroke="#9900ff" stroke-width="1.1" />
<line x1="616.1" y1="259.7" x2="621.3" y2="259.7" stroke="#9900ff" stroke-width="1.1" />
<circle cx="618.7" cy="254.7" r="3.5" fill="#9900ff" />
<line x1="636.15" y1="249.8" x2="636.15" y2="260.8" stroke="#9900ff" stroke-width="1.1" />
<line x1="633.55" y1="249.8" x2="638.75" y2="249.8" stroke="#9900ff" stroke-width="1.1" />
<line x1="633.55" y1="260.8" x2="638.75" y2="260.8" stroke="#9900ff" stroke-width="1.1" />
<circle cx="636.15" cy="255.3" r="3.5" fill="#9900ff" />
<line x1="653.6" y1="247.6" x2="653.6" y2="259.6" stroke="#9900ff" stroke-width="1.1" />
<line x1="651" y1="247.6" x2="656.2" y2="247.6" stroke="#9900ff" stroke-width="1.1" />
<line x1="651" y1="259.6" x2="656.2" y2="259.6" stroke="#9900ff" stroke-width="1.1" />
<circle cx="653.6" cy="253.6" r="3.5" fill="#9900ff" />
<text x="502" y="263.7" font-size="10.4" fill="#9900ff" font-weight="bold" text-anchor="end">0.24</text>
<text x="502" y="279.7" font-size="10.4" fill="#9900ff" font-weight="bold" text-anchor="end">0.18</text>
<text x="502" y="295.7" font-size="10.4" fill="#9900ff" font-weight="bold" text-anchor="end">0.12</text>
<text x="475" y="274.5" font-size="11.5" fill="#9900ff" font-weight="bold" text-anchor="middle" transform="rotate(-90 475 274.5)"><tspan font-size="11.5">V</tspan><tspan dy="3.22" font-size="7.36">OUTR</tspan><tspan dy="-3.22" font-size="11.5"> (V)</tspan></text>
<text x="515.2" y="258.4" font-size="11.5" fill="#c00000" font-weight="bold" text-anchor="start">‘Threshold</text>
<text x="516.6" y="270.6" font-size="11.5" fill="#c00000" font-weight="bold" text-anchor="start">point (TP)</text>
<polygon points="576.9,264.6 583.5,264.6 583.5,261.3 590.6,267.7 583.5,274.1 583.5,270.8 576.9,270.8" fill="#c00000" />
<rect x="594.2" y="130.6" width="13.7" height="169.9" fill="#f2b2b2" stroke="none" stroke-width="1" rx="0" style="mix-blend-mode:multiply"/>
<rect x="505.8" y="17.5" width="156.5" height="283" fill="none" stroke="#000" stroke-width="1.6" rx="0" />
<line x1="505.8" y1="74.1" x2="662.3" y2="74.1" stroke="#000" stroke-width="1.6" />
<line x1="505.8" y1="130.6" x2="662.3" y2="130.6" stroke="#000" stroke-width="1.6" />
<line x1="505.8" y1="187.1" x2="662.3" y2="187.1" stroke="#000" stroke-width="1.6" />
<line x1="505.8" y1="244.4" x2="662.3" y2="244.4" stroke="#000" stroke-width="1.6" />
<line x1="514" y1="74.1" x2="514" y2="68.7" stroke="#000" stroke-width="1.3" />
<line x1="531.45" y1="74.1" x2="531.45" y2="68.7" stroke="#000" stroke-width="1.3" />
<line x1="548.9" y1="74.1" x2="548.9" y2="68.7" stroke="#000" stroke-width="1.3" />
<line x1="566.35" y1="74.1" x2="566.35" y2="68.7" stroke="#000" stroke-width="1.3" />
<line x1="583.8" y1="74.1" x2="583.8" y2="68.7" stroke="#000" stroke-width="1.3" />
<line x1="601.25" y1="74.1" x2="601.25" y2="68.7" stroke="#000" stroke-width="1.3" />
<line x1="618.7" y1="74.1" x2="618.7" y2="68.7" stroke="#000" stroke-width="1.3" />
<line x1="636.15" y1="74.1" x2="636.15" y2="68.7" stroke="#000" stroke-width="1.3" />
<line x1="653.6" y1="74.1" x2="653.6" y2="68.7" stroke="#000" stroke-width="1.3" />
<line x1="522.73" y1="74.1" x2="522.73" y2="71.3" stroke="#000" stroke-width="1.1" />
<line x1="540.18" y1="74.1" x2="540.18" y2="71.3" stroke="#000" stroke-width="1.1" />
<line x1="557.62" y1="74.1" x2="557.62" y2="71.3" stroke="#000" stroke-width="1.1" />
<line x1="575.08" y1="74.1" x2="575.08" y2="71.3" stroke="#000" stroke-width="1.1" />
<line x1="592.52" y1="74.1" x2="592.52" y2="71.3" stroke="#000" stroke-width="1.1" />
<line x1="609.98" y1="74.1" x2="609.98" y2="71.3" stroke="#000" stroke-width="1.1" />
<line x1="627.43" y1="74.1" x2="627.43" y2="71.3" stroke="#000" stroke-width="1.1" />
<line x1="644.88" y1="74.1" x2="644.88" y2="71.3" stroke="#000" stroke-width="1.1" />
<line x1="514" y1="130.6" x2="514" y2="125.2" stroke="#000" stroke-width="1.3" />
<line x1="531.45" y1="130.6" x2="531.45" y2="125.2" stroke="#000" stroke-width="1.3" />
<line x1="548.9" y1="130.6" x2="548.9" y2="125.2" stroke="#000" stroke-width="1.3" />
<line x1="566.35" y1="130.6" x2="566.35" y2="125.2" stroke="#000" stroke-width="1.3" />
<line x1="583.8" y1="130.6" x2="583.8" y2="125.2" stroke="#000" stroke-width="1.3" />
<line x1="601.25" y1="130.6" x2="601.25" y2="125.2" stroke="#000" stroke-width="1.3" />
<line x1="618.7" y1="130.6" x2="618.7" y2="125.2" stroke="#000" stroke-width="1.3" />
<line x1="636.15" y1="130.6" x2="636.15" y2="125.2" stroke="#000" stroke-width="1.3" />
<line x1="653.6" y1="130.6" x2="653.6" y2="125.2" stroke="#000" stroke-width="1.3" />
<line x1="522.73" y1="130.6" x2="522.73" y2="127.8" stroke="#000" stroke-width="1.1" />
<line x1="540.18" y1="130.6" x2="540.18" y2="127.8" stroke="#000" stroke-width="1.1" />
<line x1="557.62" y1="130.6" x2="557.62" y2="127.8" stroke="#000" stroke-width="1.1" />
<line x1="575.08" y1="130.6" x2="575.08" y2="127.8" stroke="#000" stroke-width="1.1" />
<line x1="592.52" y1="130.6" x2="592.52" y2="127.8" stroke="#000" stroke-width="1.1" />
<line x1="609.98" y1="130.6" x2="609.98" y2="127.8" stroke="#000" stroke-width="1.1" />
<line x1="627.43" y1="130.6" x2="627.43" y2="127.8" stroke="#000" stroke-width="1.1" />
<line x1="644.88" y1="130.6" x2="644.88" y2="127.8" stroke="#000" stroke-width="1.1" />
<line x1="514" y1="187.1" x2="514" y2="181.7" stroke="#000" stroke-width="1.3" />
<line x1="531.45" y1="187.1" x2="531.45" y2="181.7" stroke="#000" stroke-width="1.3" />
<line x1="548.9" y1="187.1" x2="548.9" y2="181.7" stroke="#000" stroke-width="1.3" />
<line x1="566.35" y1="187.1" x2="566.35" y2="181.7" stroke="#000" stroke-width="1.3" />
<line x1="583.8" y1="187.1" x2="583.8" y2="181.7" stroke="#000" stroke-width="1.3" />
<line x1="601.25" y1="187.1" x2="601.25" y2="181.7" stroke="#000" stroke-width="1.3" />
<line x1="618.7" y1="187.1" x2="618.7" y2="181.7" stroke="#000" stroke-width="1.3" />
<line x1="636.15" y1="187.1" x2="636.15" y2="181.7" stroke="#000" stroke-width="1.3" />
<line x1="653.6" y1="187.1" x2="653.6" y2="181.7" stroke="#000" stroke-width="1.3" />
<line x1="522.73" y1="187.1" x2="522.73" y2="184.3" stroke="#000" stroke-width="1.1" />
<line x1="540.18" y1="187.1" x2="540.18" y2="184.3" stroke="#000" stroke-width="1.1" />
<line x1="557.62" y1="187.1" x2="557.62" y2="184.3" stroke="#000" stroke-width="1.1" />
<line x1="575.08" y1="187.1" x2="575.08" y2="184.3" stroke="#000" stroke-width="1.1" />
<line x1="592.52" y1="187.1" x2="592.52" y2="184.3" stroke="#000" stroke-width="1.1" />
<line x1="609.98" y1="187.1" x2="609.98" y2="184.3" stroke="#000" stroke-width="1.1" />
<line x1="627.43" y1="187.1" x2="627.43" y2="184.3" stroke="#000" stroke-width="1.1" />
<line x1="644.88" y1="187.1" x2="644.88" y2="184.3" stroke="#000" stroke-width="1.1" />
<line x1="514" y1="244.4" x2="514" y2="239" stroke="#000" stroke-width="1.3" />
<line x1="531.45" y1="244.4" x2="531.45" y2="239" stroke="#000" stroke-width="1.3" />
<line x1="548.9" y1="244.4" x2="548.9" y2="239" stroke="#000" stroke-width="1.3" />
<line x1="566.35" y1="244.4" x2="566.35" y2="239" stroke="#000" stroke-width="1.3" />
<line x1="583.8" y1="244.4" x2="583.8" y2="239" stroke="#000" stroke-width="1.3" />
<line x1="601.25" y1="244.4" x2="601.25" y2="239" stroke="#000" stroke-width="1.3" />
<line x1="618.7" y1="244.4" x2="618.7" y2="239" stroke="#000" stroke-width="1.3" />
<line x1="636.15" y1="244.4" x2="636.15" y2="239" stroke="#000" stroke-width="1.3" />
<line x1="653.6" y1="244.4" x2="653.6" y2="239" stroke="#000" stroke-width="1.3" />
<line x1="522.73" y1="244.4" x2="522.73" y2="241.6" stroke="#000" stroke-width="1.1" />
<line x1="540.18" y1="244.4" x2="540.18" y2="241.6" stroke="#000" stroke-width="1.1" />
<line x1="557.62" y1="244.4" x2="557.62" y2="241.6" stroke="#000" stroke-width="1.1" />
<line x1="575.08" y1="244.4" x2="575.08" y2="241.6" stroke="#000" stroke-width="1.1" />
<line x1="592.52" y1="244.4" x2="592.52" y2="241.6" stroke="#000" stroke-width="1.1" />
<line x1="609.98" y1="244.4" x2="609.98" y2="241.6" stroke="#000" stroke-width="1.1" />
<line x1="627.43" y1="244.4" x2="627.43" y2="241.6" stroke="#000" stroke-width="1.1" />
<line x1="644.88" y1="244.4" x2="644.88" y2="241.6" stroke="#000" stroke-width="1.1" />
<line x1="514" y1="300.5" x2="514" y2="295.1" stroke="#000" stroke-width="1.3" />
<line x1="531.45" y1="300.5" x2="531.45" y2="295.1" stroke="#000" stroke-width="1.3" />
<line x1="548.9" y1="300.5" x2="548.9" y2="295.1" stroke="#000" stroke-width="1.3" />
<line x1="566.35" y1="300.5" x2="566.35" y2="295.1" stroke="#000" stroke-width="1.3" />
<line x1="583.8" y1="300.5" x2="583.8" y2="295.1" stroke="#000" stroke-width="1.3" />
<line x1="601.25" y1="300.5" x2="601.25" y2="295.1" stroke="#000" stroke-width="1.3" />
<line x1="618.7" y1="300.5" x2="618.7" y2="295.1" stroke="#000" stroke-width="1.3" />
<line x1="636.15" y1="300.5" x2="636.15" y2="295.1" stroke="#000" stroke-width="1.3" />
<line x1="653.6" y1="300.5" x2="653.6" y2="295.1" stroke="#000" stroke-width="1.3" />
<line x1="522.73" y1="300.5" x2="522.73" y2="297.7" stroke="#000" stroke-width="1.1" />
<line x1="540.18" y1="300.5" x2="540.18" y2="297.7" stroke="#000" stroke-width="1.1" />
<line x1="557.62" y1="300.5" x2="557.62" y2="297.7" stroke="#000" stroke-width="1.1" />
<line x1="575.08" y1="300.5" x2="575.08" y2="297.7" stroke="#000" stroke-width="1.1" />
<line x1="592.52" y1="300.5" x2="592.52" y2="297.7" stroke="#000" stroke-width="1.1" />
<line x1="609.98" y1="300.5" x2="609.98" y2="297.7" stroke="#000" stroke-width="1.1" />
<line x1="627.43" y1="300.5" x2="627.43" y2="297.7" stroke="#000" stroke-width="1.1" />
<line x1="644.88" y1="300.5" x2="644.88" y2="297.7" stroke="#000" stroke-width="1.1" />
<line x1="505.8" y1="69.3" x2="508.6" y2="69.3" stroke="#000" stroke-width="1" />
<line x1="505.8" y1="50.5" x2="508.6" y2="50.5" stroke="#000" stroke-width="1" />
<line x1="505.8" y1="31.7" x2="508.6" y2="31.7" stroke="#000" stroke-width="1" />
<line x1="505.8" y1="59.9" x2="507.4" y2="59.9" stroke="#000" stroke-width="1" />
<line x1="505.8" y1="41.1" x2="507.4" y2="41.1" stroke="#000" stroke-width="1" />
<line x1="505.8" y1="22.3" x2="507.4" y2="22.3" stroke="#000" stroke-width="1" />
<line x1="505.8" y1="121.65" x2="508.6" y2="121.65" stroke="#000" stroke-width="1" />
<line x1="505.8" y1="102.4" x2="508.6" y2="102.4" stroke="#000" stroke-width="1" />
<line x1="505.8" y1="83.15" x2="508.6" y2="83.15" stroke="#000" stroke-width="1" />
<line x1="505.8" y1="112.03" x2="507.4" y2="112.03" stroke="#000" stroke-width="1" />
<line x1="505.8" y1="92.77" x2="507.4" y2="92.77" stroke="#000" stroke-width="1" />
<line x1="505.8" y1="174.9" x2="508.6" y2="174.9" stroke="#000" stroke-width="1" />
<line x1="505.8" y1="158.8" x2="508.6" y2="158.8" stroke="#000" stroke-width="1" />
<line x1="505.8" y1="142.7" x2="508.6" y2="142.7" stroke="#000" stroke-width="1" />
<line x1="505.8" y1="182.95" x2="507.4" y2="182.95" stroke="#000" stroke-width="1" />
<line x1="505.8" y1="166.85" x2="507.4" y2="166.85" stroke="#000" stroke-width="1" />
<line x1="505.8" y1="150.75" x2="507.4" y2="150.75" stroke="#000" stroke-width="1" />
<line x1="505.8" y1="237.8" x2="508.6" y2="237.8" stroke="#000" stroke-width="1" />
<line x1="505.8" y1="226.4" x2="508.6" y2="226.4" stroke="#000" stroke-width="1" />
<line x1="505.8" y1="215" x2="508.6" y2="215" stroke="#000" stroke-width="1" />
<line x1="505.8" y1="203.6" x2="508.6" y2="203.6" stroke="#000" stroke-width="1" />
<line x1="505.8" y1="192.2" x2="508.6" y2="192.2" stroke="#000" stroke-width="1" />
<line x1="505.8" y1="232.1" x2="507.4" y2="232.1" stroke="#000" stroke-width="1" />
<line x1="505.8" y1="220.7" x2="507.4" y2="220.7" stroke="#000" stroke-width="1" />
<line x1="505.8" y1="209.3" x2="507.4" y2="209.3" stroke="#000" stroke-width="1" />
<line x1="505.8" y1="197.9" x2="507.4" y2="197.9" stroke="#000" stroke-width="1" />
<line x1="505.8" y1="292.2" x2="508.6" y2="292.2" stroke="#000" stroke-width="1" />
<line x1="505.8" y1="276.2" x2="508.6" y2="276.2" stroke="#000" stroke-width="1" />
<line x1="505.8" y1="260.2" x2="508.6" y2="260.2" stroke="#000" stroke-width="1" />
<line x1="505.8" y1="284.2" x2="507.4" y2="284.2" stroke="#000" stroke-width="1" />
<line x1="505.8" y1="268.2" x2="507.4" y2="268.2" stroke="#000" stroke-width="1" />
<line x1="505.8" y1="252.19" x2="507.4" y2="252.19" stroke="#000" stroke-width="1" />
<text x="514" y="314" font-size="10.3" fill="#000" font-weight="bold" text-anchor="middle">10</text>
<text x="531.45" y="314" font-size="10.3" fill="#000" font-weight="bold" text-anchor="middle">9</text>
<text x="548.9" y="314" font-size="10.3" fill="#000" font-weight="bold" text-anchor="middle">8</text>
<text x="566.35" y="314" font-size="10.3" fill="#000" font-weight="bold" text-anchor="middle">7</text>
<text x="583.8" y="314" font-size="10.3" fill="#000" font-weight="bold" text-anchor="middle">6</text>
<text x="601.25" y="314" font-size="10.3" fill="#000" font-weight="bold" text-anchor="middle">5</text>
<text x="618.7" y="314" font-size="10.3" fill="#000" font-weight="bold" text-anchor="middle">4</text>
<text x="636.15" y="314" font-size="10.3" fill="#000" font-weight="bold" text-anchor="middle">3</text>
<text x="653.6" y="314" font-size="10.3" fill="#000" font-weight="bold" text-anchor="middle">2</text>
<text x="585" y="327.8" font-size="11.3" fill="#000" font-weight="bold" text-anchor="middle">pH value</text>
<text x="23" y="191.9" font-size="12.2" fill="#000" font-weight="bold" text-anchor="start">(b)</text>
<rect x="24.8" y="208.5" width="81.2" height="52.8" fill="none" stroke="#c42020" stroke-width="1.3" rx="7" />
<text x="64.6" y="225.5" font-size="11.6" fill="#c00000" font-weight="bold" text-anchor="middle"><tspan font-size="11.6">If V</tspan><tspan dy="3.25" font-size="7.42">OUTS</tspan><tspan dy="-3.25" font-size="11.6">≥V</tspan><tspan dy="3.25" font-size="7.42">SET</tspan><tspan dy="0" font-size="7.42">,</tspan></text>
<text x="65" y="239.6" font-size="11.2" fill="#c00000" font-weight="bold" text-anchor="middle"><tspan font-size="11.2">High V</tspan><tspan dy="3.14" font-size="7.17">OUTR</tspan></text>
<text x="38.2" y="254" font-size="10.2" fill="#c00000" font-weight="bold" text-anchor="start">(</text>
<circle cx="42.7" cy="249.6" r="0.95" fill="#c00000" />
<circle cx="45.8" cy="249.6" r="0.95" fill="#c00000" />
<circle cx="44.25" cy="252.3" r="0.95" fill="#c00000" />
<text x="50" y="254" font-size="10" fill="#c00000" font-weight="bold" text-anchor="start"><tspan font-size="10">R</tspan><tspan dy="2.8" font-size="6.4">M</tspan><tspan dy="-2.8" font-size="10">=R</tspan><tspan dy="2.8" font-size="6.4">LRS</tspan><tspan dy="-2.8" font-size="10">)</tspan></text>
<rect x="24.8" y="271.6" width="81.2" height="54" fill="none" stroke="#2020f0" stroke-width="1.3" rx="7" />
<text x="64.6" y="289.4" font-size="11.6" fill="#1010ff" font-weight="bold" text-anchor="middle"><tspan font-size="11.6">If V</tspan><tspan dy="3.25" font-size="7.42">OUTS</tspan><tspan dy="-3.25" font-size="11.6">&lt;V</tspan><tspan dy="3.25" font-size="7.42">SET</tspan><tspan dy="0" font-size="7.42">,</tspan></text>
<text x="65" y="304.6" font-size="11.2" fill="#1010ff" font-weight="bold" text-anchor="middle"><tspan font-size="11.2">Low V</tspan><tspan dy="3.14" font-size="7.17">OUTR</tspan></text>
<text x="37.8" y="318.4" font-size="10.2" fill="#1010ff" font-weight="bold" text-anchor="start">(</text>
<circle cx="42.3" cy="314" r="0.95" fill="#1010ff" />
<circle cx="45.4" cy="314" r="0.95" fill="#1010ff" />
<circle cx="43.85" cy="316.7" r="0.95" fill="#1010ff" />
<text x="49.6" y="318.4" font-size="10" fill="#1010ff" font-weight="bold" text-anchor="start"><tspan font-size="10">R</tspan><tspan dy="2.8" font-size="6.4">M</tspan><tspan dy="-2.8" font-size="10">=R</tspan><tspan dy="2.8" font-size="6.4">HRS</tspan><tspan dy="-2.8" font-size="10">)</tspan></text>
<polygon points="117.5,230.2 135,213.4 135,219.3 220.5,219.3 220.5,241.2 135,241.2 135,247.7" fill="url(#gp)" />
<line x1="221.9" y1="219.3" x2="221.9" y2="241.2" stroke="#4a86cc" stroke-width="1" />
<line x1="223.9" y1="219.3" x2="223.9" y2="241.2" stroke="#4a86cc" stroke-width="1" />
<line x1="225.9" y1="219.3" x2="225.9" y2="241.2" stroke="#4a86cc" stroke-width="1" />
<text x="141.5" y="234" font-size="11" fill="#000" font-weight="bold" text-anchor="start"><tspan font-size="11">V</tspan><tspan dy="3.08" font-size="7.04">OUTS</tspan><tspan dy="-3.08" font-size="11"> = I</tspan><tspan dy="3.08" font-size="7.04">D</tspan><tspan dy="-3.08" font-size="11">×</tspan><tspan font-size="11">R</tspan><tspan dy="3.08" font-size="7.04">EQ</tspan></text>
<polygon points="245.5,232.4 266,259.8 257.5,259.8 257.5,319.3 233.4,319.3 233.4,259.8 225.1,259.8" fill="url(#gu)" />
<rect x="233.4" y="310" width="24.1" height="9.3" fill="url(#gt)" stroke="none" stroke-width="1" rx="0" />
<line x1="233.4" y1="314.2" x2="257.5" y2="314.2" stroke="#22acac" stroke-width="0.9" />
<line x1="233.4" y1="316.5" x2="257.5" y2="316.5" stroke="#22acac" stroke-width="0.9" />
<line x1="233.4" y1="318.7" x2="257.5" y2="318.7" stroke="#22acac" stroke-width="0.9" />
<text x="240.8" y="239.3" font-size="10.9" fill="#000" font-weight="bold" text-anchor="start" transform="rotate(90 240.8 239.3)"><tspan font-size="10.9">I</tspan><tspan dy="3.05" font-size="6.98">D</tspan><tspan dy="-3.05" font-size="10.9"> = f(V</tspan><tspan dy="3.05" font-size="6.98">REF</tspan><tspan dy="-3.05" font-size="10.9">+ΔV</tspan><tspan dy="3.05" font-size="6.98">W</tspan><tspan dy="-3.05" font-size="10.9">)</tspan></text>
<line x1="111.3" y1="339.8" x2="111.3" y2="205" stroke="#9b1fa8" stroke-width="1.8" />
<polygon points="111.3,199.3 107.8,206.3 114.8,206.3" fill="#9b1fa8" />
<text x="97" y="193" font-size="11.6" fill="#9b1fa8" font-weight="bold" text-anchor="start"><tspan font-size="11.6">V</tspan><tspan dy="3.25" font-size="7.42">OUTS</tspan></text>
<line x1="111.3" y1="323.4" x2="270.5" y2="323.4" stroke="#1a9c9c" stroke-width="1.8" />
<polygon points="276.8,323.4 269.6,319.6 269.6,327.2" fill="#1a9c9c" />
<text x="266.4" y="340.6" font-size="11.6" fill="#1a9c9c" font-weight="bold" text-anchor="start"><tspan font-size="11.6">~V</tspan><tspan dy="3.25" font-size="7.42">W</tspan></text>
<path d="M111.3 317.8 L160.5 317.8 Q167.5 317.8 172 312.5 L249.2 220.8" fill="none" stroke="#2b4a94" stroke-width="2" />
<line x1="25.6" y1="266" x2="210" y2="266" stroke="#1a8a1a" stroke-width="2.4" stroke-dasharray="2.4 1.9"/>
<line x1="211.8" y1="268" x2="211.8" y2="321" stroke="#1a8a1a" stroke-width="2.4" stroke-dasharray="2.4 1.9"/>
<circle cx="111.3" cy="265.8" r="3.9" fill="#0f7a0f" />
<circle cx="211.8" cy="323.2" r="3.8" fill="#0f7a0f" />
<text x="114.8" y="260.1" font-size="11.5" fill="#2a9a2a" font-weight="normal" text-anchor="start"><tspan font-size="11.5">V</tspan><tspan dy="2.76" font-size="7.82">SET</tspan></text>
<text x="115.2" y="280.6" font-size="11.2" fill="#1a8a1a" font-weight="bold" text-anchor="start" font-style="italic">Threshold line</text>
<line x1="116" y1="332.9" x2="180.5" y2="332.9" stroke="#ff1a1a" stroke-width="1.6" />
<polygon points="112.2,332.9 118.8,329.4 118.8,336.4" fill="#ff1a1a" />
<polygon points="184.3,332.9 177.7,329.4 177.7,336.4" fill="#ff1a1a" />
<text x="138" y="344.6" font-size="11.6" fill="#ff1a1a" font-weight="bold" text-anchor="start"><tspan font-size="11.6">V</tspan><tspan dy="3.25" font-size="7.42">REF</tspan></text>
<line x1="188" y1="332.9" x2="239.6" y2="332.9" stroke="#1a9c9c" stroke-width="1.6" />
<polygon points="184.6,332.9 191.2,329.4 191.2,336.4" fill="#1a9c9c" />
<polygon points="243.4,332.9 236.8,329.4 236.8,336.4" fill="#1a9c9c" />
<text x="202.4" y="344.4" font-size="11.6" fill="#1a9c9c" font-weight="bold" text-anchor="start"><tspan font-size="11.6">ΔV</tspan><tspan dy="3.25" font-size="7.42">W</tspan></text>
<text x="156.4" y="194.5" font-size="11.2" fill="#3a80c2" font-weight="normal" text-anchor="start">‘Transfer curve</text>
<text x="149.8" y="208.2" font-size="11.2" fill="#3a80c2" font-weight="normal" text-anchor="start">of the upper FET’</text>
<line x1="232.6" y1="210.6" x2="244" y2="220" stroke="#3a80c2" stroke-width="0.9" />
<polygon points="246.6,222.2 241.4,220.8 243.6,218.2" fill="#3a80c2" />
<path d="M262.8 194.5 C275 187 293 192 302.2 213.2 L300.6 213.2 C292 203 276 199 267.6 206.6 L270.2 211.5 L250.3 209.9 L261.3 188.6 Z" fill="url(#gg)" stroke="none" stroke-width="1" />
<path d="M300.6 213.2 C292 203 276 199 267.6 206.6" fill="none" stroke="#a8a8a8" stroke-width="0.7" />
<rect x="294.4" y="209.4" width="148.6" height="123.6" fill="#ffffff" stroke="#c8c8c8" stroke-width="1" rx="14" />
<line x1="370.6" y1="228.8" x2="379" y2="228.8" stroke="#111" stroke-width="1.6" />
<line x1="374.8" y1="228.8" x2="374.8" y2="247.6" stroke="#111" stroke-width="1.6" />
<line x1="368.3" y1="247.6" x2="374.8" y2="247.6" stroke="#111" stroke-width="1.6" />
<line x1="368.3" y1="246.5" x2="368.3" y2="259.4" stroke="#111" stroke-width="1.6" />
<line x1="364.2" y1="247.5" x2="364.2" y2="258.4" stroke="#111" stroke-width="2" />
<line x1="353.2" y1="252.8" x2="364.4" y2="252.8" stroke="#111" stroke-width="1.6" />
<circle cx="353.2" cy="252.8" r="1.8" fill="#111" />
<line x1="368.3" y1="258.4" x2="374.8" y2="258.4" stroke="#111" stroke-width="1.6" />
<line x1="374.8" y1="258.4" x2="374.8" y2="270.6" stroke="#111" stroke-width="1.6" />
<line x1="374.8" y1="264.6" x2="396.8" y2="264.6" stroke="#111" stroke-width="1.6" />
<circle cx="397" cy="264.6" r="1.9" fill="#111" />
<polyline points="374.8,270.4 377.4,272.2 372.4,274.6 377.4,277 372.4,279.4 377.4,281.8 372.4,284.2 374.8,286.4" fill="none" stroke="#111" stroke-width="1.6" />
<line x1="374.8" y1="286.4" x2="374.8" y2="294.4" stroke="#111" stroke-width="1.6" />
<line x1="369.6" y1="294.4" x2="380" y2="294.4" stroke="#111" stroke-width="1.6" />
<line x1="371.3" y1="297" x2="378.3" y2="297" stroke="#111" stroke-width="1.2" />
<line x1="373" y1="299.6" x2="376.6" y2="299.6" stroke="#111" stroke-width="1.1" />
<line x1="381.2" y1="235.4" x2="381.2" y2="251.5" stroke="#3a6fb6" stroke-width="1.2" />
<polygon points="381.2,255.4 379.2,250.6 383.2,250.6" fill="#3a6fb6" />
<text x="385.4" y="249.6" font-size="11" fill="#3a7ac0" font-weight="bold" text-anchor="start"><tspan font-size="11">I</tspan><tspan dy="3.08" font-size="7.04">D</tspan></text>
<text x="380.8" y="231.4" font-size="11" fill="#000" font-weight="bold" text-anchor="start"><tspan font-size="11">V</tspan><tspan dy="3.08" font-size="7.04">D</tspan></text>
<text x="347" y="244.8" font-size="11" fill="#1aa0a0" font-weight="bold" text-anchor="start"><tspan font-size="11">V</tspan><tspan dy="3.08" font-size="7.04">W</tspan></text>
<text x="301.2" y="243" font-size="11" fill="#ff1a1a" font-weight="bold" text-anchor="start"><tspan font-size="11">V</tspan><tspan dy="3.08" font-size="7.04">REF</tspan></text>
<circle cx="314.6" cy="248.3" r="1.8" fill="#111" />
<polyline points="314.6,248.3 314.6,261 321.5,261" fill="none" stroke="#111" stroke-width="1.6" />
<polygon points="327,232.6 329.4,232 335.4,249.6 333.4,250" fill="#dce6f2" />
<g transform="translate(324.6 228.6) rotate(-38)">
<rect x="-1.9" y="-6.4" width="3.8" height="4.6" fill="#3b6ea8" stroke="none" stroke-width="1" rx="1.6" />
<rect x="-2.9" y="-2.2" width="5.8" height="2.2" fill="#3b6ea8" stroke="none" stroke-width="1" rx="0.8" />
<rect x="-1.8" y="-0.2" width="3.6" height="4.2" fill="#4f80bc" stroke="none" stroke-width="1" rx="0.6" />
</g>
<polygon points="320.8,258.3 337.3,251.1 354.7,259.4 354.7,263.5 337.3,271.3 321,262.5" fill="#2c2c2c" />
<polygon points="320.8,258.3 337.3,251.1 354.7,259.4 337.3,266.8" fill="#505050" />
<polygon points="325.6,258.6 337.5,253.2 350,259.2 337.5,264.6" fill="#a88a4c" />
<polygon points="329,258.6 337.5,254.8 346.6,259.1 337.5,263" fill="#f3e2b4" />
<line x1="350.8" y1="255.6" x2="353" y2="253.4" stroke="#d9b56a" stroke-width="1.2" />
<text x="351.2" y="282.2" font-size="11" fill="#000" font-weight="bold" text-anchor="start"><tspan font-size="11">R</tspan><tspan dy="3.08" font-size="7.04">EQ</tspan></text>
<text x="385.6" y="280.4" font-size="11" fill="#9900aa" font-weight="bold" text-anchor="start"><tspan font-size="11">V</tspan><tspan dy="3.08" font-size="7.04">OUTS</tspan></text>
<text x="385.4" y="292.8" font-size="11.6" fill="#000" font-weight="bold" text-anchor="start"><tspan font-size="11.6">(=I</tspan><tspan dy="3.25" font-size="7.42">D</tspan><tspan dy="-3.25" font-size="11.6"> × R</tspan><tspan dy="3.25" font-size="7.42">EQ</tspan><tspan dy="-3.25" font-size="11.6">)</tspan></text>
<text x="307.8" y="308.6" font-size="10.6" fill="#000" font-weight="bold" text-anchor="start"><tspan font-size="10.6">*R</tspan><tspan dy="2.97" font-size="6.78">EQ</tspan><tspan dy="-2.97" font-size="10.6"> =</tspan></text>
<text x="313.8" y="322" font-size="10.6" fill="#000" font-weight="bold" text-anchor="start"><tspan font-size="10.6">R</tspan><tspan dy="2.97" font-size="6.78">T</tspan><tspan dy="-2.97" font-size="10.6">//R</tspan><tspan dy="2.97" font-size="6.78">MP</tspan><tspan dy="-2.97" font-size="10.6">//R</tspan><tspan dy="2.97" font-size="6.78">O</tspan><tspan dy="-2.97" font-size="10.6"> = ~R</tspan><tspan dy="2.97" font-size="6.78">T</tspan></text>
<text x="23.4" y="368.8" font-size="12.2" fill="#000" font-weight="bold" text-anchor="start">(e)</text>
<rect x="343.5" y="357.2" width="149.3" height="14.6" fill="#efefef" stroke="none" stroke-width="1" rx="0" />
<rect x="349.1" y="360.4" width="5.7" height="9.9" fill="#e8a3a3" stroke="none" stroke-width="1" rx="0" />
<text x="358.6" y="369.7" font-size="11.5" fill="#111" font-weight="normal" text-anchor="start">: Threshold pH point (TP)</text>
<rect x="63.7" y="425.9" width="4.4" height="97.7" fill="#f2c4c4" stroke="none" stroke-width="1" rx="0" />
<line x1="64.5" y1="383.6" x2="105.7" y2="383.6" stroke="#00008b" stroke-width="3.9" />
<text x="85.9" y="400" font-size="11.2" fill="#2f5597" font-weight="bold" text-anchor="middle">2.2 V</text>
<polyline points="65.9,466.68 70.78,467.17 75.66,466.68 80.54,466.19 85.42,467.66 90.3,466.68 95.18,468.65 100.06,465.7 104.94,467.17" fill="none" stroke="#00008b" stroke-width="1.9" />
<polyline points="65.9,484.53 70.78,481.25 75.66,483.44 80.54,484.53 85.42,480.97 90.3,483.16 95.18,478.78 100.06,484.53 104.94,482.07" fill="none" stroke="#00008b" stroke-width="1.9" />
<circle cx="65.9" cy="466.68" r="2.85" fill="#00008b" />
<circle cx="70.78" cy="467.17" r="2.85" fill="#00008b" />
<circle cx="75.66" cy="466.68" r="2.85" fill="#00008b" />
<circle cx="80.54" cy="466.19" r="2.85" fill="#00008b" />
<circle cx="85.42" cy="467.66" r="2.85" fill="#00008b" />
<circle cx="90.3" cy="466.68" r="2.85" fill="#00008b" />
<circle cx="95.18" cy="468.65" r="2.85" fill="#00008b" />
<circle cx="100.06" cy="465.7" r="2.85" fill="#00008b" />
<circle cx="104.94" cy="467.17" r="2.85" fill="#00008b" />
<circle cx="65.9" cy="484.53" r="2.85" fill="#00008b" />
<circle cx="70.78" cy="481.25" r="2.85" fill="#00008b" />
<circle cx="75.66" cy="483.44" r="2.85" fill="#00008b" />
<circle cx="80.54" cy="484.53" r="2.85" fill="#00008b" />
<circle cx="85.42" cy="480.97" r="2.85" fill="#00008b" />
<circle cx="90.3" cy="483.16" r="2.85" fill="#00008b" />
<circle cx="95.18" cy="478.78" r="2.85" fill="#00008b" />
<circle cx="100.06" cy="484.53" r="2.85" fill="#00008b" />
<circle cx="104.94" cy="482.07" r="2.85" fill="#00008b" />
<rect x="63.5" y="377.5" width="43.2" height="146.1" fill="none" stroke="#000" stroke-width="1.6" rx="0" />
<line x1="63.5" y1="425.9" x2="106.7" y2="425.9" stroke="#000" stroke-width="1.6" />
<line x1="63.5" y1="474.9" x2="106.7" y2="474.9" stroke="#000" stroke-width="1.6" />
<line x1="65.9" y1="425.9" x2="65.9" y2="423.3" stroke="#000" stroke-width="1" />
<line x1="70.78" y1="425.9" x2="70.78" y2="424.3" stroke="#000" stroke-width="1" />
<line x1="75.66" y1="425.9" x2="75.66" y2="423.3" stroke="#000" stroke-width="1" />
<line x1="80.54" y1="425.9" x2="80.54" y2="424.3" stroke="#000" stroke-width="1" />
<line x1="85.42" y1="425.9" x2="85.42" y2="423.3" stroke="#000" stroke-width="1" />
<line x1="90.3" y1="425.9" x2="90.3" y2="424.3" stroke="#000" stroke-width="1" />
<line x1="95.18" y1="425.9" x2="95.18" y2="423.3" stroke="#000" stroke-width="1" />
<line x1="100.06" y1="425.9" x2="100.06" y2="424.3" stroke="#000" stroke-width="1" />
<line x1="104.94" y1="425.9" x2="104.94" y2="423.3" stroke="#000" stroke-width="1" />
<line x1="65.9" y1="474.9" x2="65.9" y2="472.3" stroke="#000" stroke-width="1" />
<line x1="70.78" y1="474.9" x2="70.78" y2="473.3" stroke="#000" stroke-width="1" />
<line x1="75.66" y1="474.9" x2="75.66" y2="472.3" stroke="#000" stroke-width="1" />
<line x1="80.54" y1="474.9" x2="80.54" y2="473.3" stroke="#000" stroke-width="1" />
<line x1="85.42" y1="474.9" x2="85.42" y2="472.3" stroke="#000" stroke-width="1" />
<line x1="90.3" y1="474.9" x2="90.3" y2="473.3" stroke="#000" stroke-width="1" />
<line x1="95.18" y1="474.9" x2="95.18" y2="472.3" stroke="#000" stroke-width="1" />
<line x1="100.06" y1="474.9" x2="100.06" y2="473.3" stroke="#000" stroke-width="1" />
<line x1="104.94" y1="474.9" x2="104.94" y2="472.3" stroke="#000" stroke-width="1" />
<line x1="65.9" y1="523.6" x2="65.9" y2="521" stroke="#000" stroke-width="1" />
<line x1="70.78" y1="523.6" x2="70.78" y2="522" stroke="#000" stroke-width="1" />
<line x1="75.66" y1="523.6" x2="75.66" y2="521" stroke="#000" stroke-width="1" />
<line x1="80.54" y1="523.6" x2="80.54" y2="522" stroke="#000" stroke-width="1" />
<line x1="85.42" y1="523.6" x2="85.42" y2="521" stroke="#000" stroke-width="1" />
<line x1="90.3" y1="523.6" x2="90.3" y2="522" stroke="#000" stroke-width="1" />
<line x1="95.18" y1="523.6" x2="95.18" y2="521" stroke="#000" stroke-width="1" />
<line x1="100.06" y1="523.6" x2="100.06" y2="522" stroke="#000" stroke-width="1" />
<line x1="104.94" y1="523.6" x2="104.94" y2="521" stroke="#000" stroke-width="1" />
<line x1="63.5" y1="420.5" x2="66.1" y2="420.5" stroke="#000" stroke-width="1" />
<line x1="63.5" y1="414.35" x2="65.1" y2="414.35" stroke="#000" stroke-width="1" />
<line x1="63.5" y1="408.2" x2="66.1" y2="408.2" stroke="#000" stroke-width="1" />
<line x1="63.5" y1="402.05" x2="65.1" y2="402.05" stroke="#000" stroke-width="1" />
<line x1="63.5" y1="395.9" x2="66.1" y2="395.9" stroke="#000" stroke-width="1" />
<line x1="63.5" y1="389.75" x2="65.1" y2="389.75" stroke="#000" stroke-width="1" />
<line x1="63.5" y1="383.6" x2="66.1" y2="383.6" stroke="#000" stroke-width="1" />
<line x1="63.5" y1="471.6" x2="66.1" y2="471.6" stroke="#000" stroke-width="1" />
<line x1="63.5" y1="464.22" x2="65.1" y2="464.22" stroke="#000" stroke-width="1" />
<line x1="63.5" y1="456.84" x2="66.1" y2="456.84" stroke="#000" stroke-width="1" />
<line x1="63.5" y1="449.46" x2="65.1" y2="449.46" stroke="#000" stroke-width="1" />
<line x1="63.5" y1="442.08" x2="66.1" y2="442.08" stroke="#000" stroke-width="1" />
<line x1="63.5" y1="434.7" x2="65.1" y2="434.7" stroke="#000" stroke-width="1" />
<line x1="63.5" y1="514.4" x2="66.1" y2="514.4" stroke="#000" stroke-width="1" />
<line x1="63.5" y1="507.55" x2="65.1" y2="507.55" stroke="#000" stroke-width="1" />
<line x1="63.5" y1="500.7" x2="66.1" y2="500.7" stroke="#000" stroke-width="1" />
<line x1="63.5" y1="493.85" x2="65.1" y2="493.85" stroke="#000" stroke-width="1" />
<line x1="63.5" y1="487" x2="66.1" y2="487" stroke="#000" stroke-width="1" />
<line x1="63.5" y1="480.15" x2="65.1" y2="480.15" stroke="#000" stroke-width="1" />
<text x="65.6" y="535.4" font-size="10.4" fill="#000" font-weight="bold" text-anchor="middle" transform="translate(65.6 535.4) scale(0.76 1) translate(-65.6 -535.4)" stroke="#000" stroke-width="0.3">10</text>
<text x="75.76" y="535.4" font-size="10.4" fill="#000" font-weight="bold" text-anchor="middle" transform="translate(75.76 535.4) scale(0.78 1) translate(-75.76 -535.4)" stroke="#000" stroke-width="0.3">8</text>
<text x="85.52" y="535.4" font-size="10.4" fill="#000" font-weight="bold" text-anchor="middle" transform="translate(85.52 535.4) scale(0.78 1) translate(-85.52 -535.4)" stroke="#000" stroke-width="0.3">6</text>
<text x="95.28" y="535.4" font-size="10.4" fill="#000" font-weight="bold" text-anchor="middle" transform="translate(95.28 535.4) scale(0.78 1) translate(-95.28 -535.4)" stroke="#000" stroke-width="0.3">4</text>
<text x="105.04" y="535.4" font-size="10.4" fill="#000" font-weight="bold" text-anchor="middle" transform="translate(105.04 535.4) scale(0.78 1) translate(-105.04 -535.4)" stroke="#000" stroke-width="0.3">2</text>
<rect x="116.86" y="425.9" width="4.4" height="97.7" fill="#f2c4c4" stroke="none" stroke-width="1" rx="0" />
<line x1="112.78" y1="387.29" x2="153.98" y2="387.29" stroke="#3535ff" stroke-width="3.9" />
<text x="134.18" y="403.8" font-size="11.2" fill="#7a7aff" font-weight="bold" text-anchor="middle">2.14 V</text>
<polyline points="114.18,431.75 119.06,465.7 123.94,466.19 128.82,466.19 133.7,467.17 138.58,466.19 143.46,466.19 148.34,466.19 153.22,468.16" fill="none" stroke="#3535ff" stroke-width="1.9" />
<polyline points="114.18,519.61 119.06,484.53 123.94,483.44 128.82,482.89 133.7,481.52 138.58,483.71 143.46,482.89 148.34,482.89 153.22,479.33" fill="none" stroke="#3535ff" stroke-width="1.9" />
<circle cx="114.18" cy="431.75" r="2.85" fill="#3535ff" />
<circle cx="119.06" cy="465.7" r="2.85" fill="#3535ff" />
<circle cx="123.94" cy="466.19" r="2.85" fill="#3535ff" />
<circle cx="128.82" cy="466.19" r="2.85" fill="#3535ff" />
<circle cx="133.7" cy="467.17" r="2.85" fill="#3535ff" />
<circle cx="138.58" cy="466.19" r="2.85" fill="#3535ff" />
<circle cx="143.46" cy="466.19" r="2.85" fill="#3535ff" />
<circle cx="148.34" cy="466.19" r="2.85" fill="#3535ff" />
<circle cx="153.22" cy="468.16" r="2.85" fill="#3535ff" />
<circle cx="114.18" cy="519.61" r="2.85" fill="#3535ff" />
<circle cx="119.06" cy="484.53" r="2.85" fill="#3535ff" />
<circle cx="123.94" cy="483.44" r="2.85" fill="#3535ff" />
<circle cx="128.82" cy="482.89" r="2.85" fill="#3535ff" />
<circle cx="133.7" cy="481.52" r="2.85" fill="#3535ff" />
<circle cx="138.58" cy="483.71" r="2.85" fill="#3535ff" />
<circle cx="143.46" cy="482.89" r="2.85" fill="#3535ff" />
<circle cx="148.34" cy="482.89" r="2.85" fill="#3535ff" />
<circle cx="153.22" cy="479.33" r="2.85" fill="#3535ff" />
<rect x="111.78" y="377.5" width="43.2" height="146.1" fill="none" stroke="#000" stroke-width="1.6" rx="0" />
<line x1="111.78" y1="425.9" x2="154.98" y2="425.9" stroke="#000" stroke-width="1.6" />
<line x1="111.78" y1="474.9" x2="154.98" y2="474.9" stroke="#000" stroke-width="1.6" />
<line x1="114.18" y1="425.9" x2="114.18" y2="423.3" stroke="#000" stroke-width="1" />
<line x1="119.06" y1="425.9" x2="119.06" y2="424.3" stroke="#000" stroke-width="1" />
<line x1="123.94" y1="425.9" x2="123.94" y2="423.3" stroke="#000" stroke-width="1" />
<line x1="128.82" y1="425.9" x2="128.82" y2="424.3" stroke="#000" stroke-width="1" />
<line x1="133.7" y1="425.9" x2="133.7" y2="423.3" stroke="#000" stroke-width="1" />
<line x1="138.58" y1="425.9" x2="138.58" y2="424.3" stroke="#000" stroke-width="1" />
<line x1="143.46" y1="425.9" x2="143.46" y2="423.3" stroke="#000" stroke-width="1" />
<line x1="148.34" y1="425.9" x2="148.34" y2="424.3" stroke="#000" stroke-width="1" />
<line x1="153.22" y1="425.9" x2="153.22" y2="423.3" stroke="#000" stroke-width="1" />
<line x1="114.18" y1="474.9" x2="114.18" y2="472.3" stroke="#000" stroke-width="1" />
<line x1="119.06" y1="474.9" x2="119.06" y2="473.3" stroke="#000" stroke-width="1" />
<line x1="123.94" y1="474.9" x2="123.94" y2="472.3" stroke="#000" stroke-width="1" />
<line x1="128.82" y1="474.9" x2="128.82" y2="473.3" stroke="#000" stroke-width="1" />
<line x1="133.7" y1="474.9" x2="133.7" y2="472.3" stroke="#000" stroke-width="1" />
<line x1="138.58" y1="474.9" x2="138.58" y2="473.3" stroke="#000" stroke-width="1" />
<line x1="143.46" y1="474.9" x2="143.46" y2="472.3" stroke="#000" stroke-width="1" />
<line x1="148.34" y1="474.9" x2="148.34" y2="473.3" stroke="#000" stroke-width="1" />
<line x1="153.22" y1="474.9" x2="153.22" y2="472.3" stroke="#000" stroke-width="1" />
<line x1="114.18" y1="523.6" x2="114.18" y2="521" stroke="#000" stroke-width="1" />
<line x1="119.06" y1="523.6" x2="119.06" y2="522" stroke="#000" stroke-width="1" />
<line x1="123.94" y1="523.6" x2="123.94" y2="521" stroke="#000" stroke-width="1" />
<line x1="128.82" y1="523.6" x2="128.82" y2="522" stroke="#000" stroke-width="1" />
<line x1="133.7" y1="523.6" x2="133.7" y2="521" stroke="#000" stroke-width="1" />
<line x1="138.58" y1="523.6" x2="138.58" y2="522" stroke="#000" stroke-width="1" />
<line x1="143.46" y1="523.6" x2="143.46" y2="521" stroke="#000" stroke-width="1" />
<line x1="148.34" y1="523.6" x2="148.34" y2="522" stroke="#000" stroke-width="1" />
<line x1="153.22" y1="523.6" x2="153.22" y2="521" stroke="#000" stroke-width="1" />
<line x1="111.78" y1="420.5" x2="114.38" y2="420.5" stroke="#000" stroke-width="1" />
<line x1="111.78" y1="414.35" x2="113.38" y2="414.35" stroke="#000" stroke-width="1" />
<line x1="111.78" y1="408.2" x2="114.38" y2="408.2" stroke="#000" stroke-width="1" />
<line x1="111.78" y1="402.05" x2="113.38" y2="402.05" stroke="#000" stroke-width="1" />
<line x1="111.78" y1="395.9" x2="114.38" y2="395.9" stroke="#000" stroke-width="1" />
<line x1="111.78" y1="389.75" x2="113.38" y2="389.75" stroke="#000" stroke-width="1" />
<line x1="111.78" y1="383.6" x2="114.38" y2="383.6" stroke="#000" stroke-width="1" />
<line x1="111.78" y1="471.6" x2="114.38" y2="471.6" stroke="#000" stroke-width="1" />
<line x1="111.78" y1="464.22" x2="113.38" y2="464.22" stroke="#000" stroke-width="1" />
<line x1="111.78" y1="456.84" x2="114.38" y2="456.84" stroke="#000" stroke-width="1" />
<line x1="111.78" y1="449.46" x2="113.38" y2="449.46" stroke="#000" stroke-width="1" />
<line x1="111.78" y1="442.08" x2="114.38" y2="442.08" stroke="#000" stroke-width="1" />
<line x1="111.78" y1="434.7" x2="113.38" y2="434.7" stroke="#000" stroke-width="1" />
<line x1="111.78" y1="514.4" x2="114.38" y2="514.4" stroke="#000" stroke-width="1" />
<line x1="111.78" y1="507.55" x2="113.38" y2="507.55" stroke="#000" stroke-width="1" />
<line x1="111.78" y1="500.7" x2="114.38" y2="500.7" stroke="#000" stroke-width="1" />
<line x1="111.78" y1="493.85" x2="113.38" y2="493.85" stroke="#000" stroke-width="1" />
<line x1="111.78" y1="487" x2="114.38" y2="487" stroke="#000" stroke-width="1" />
<line x1="111.78" y1="480.15" x2="113.38" y2="480.15" stroke="#000" stroke-width="1" />
<text x="113.88" y="535.4" font-size="10.4" fill="#000" font-weight="bold" text-anchor="middle" transform="translate(113.88 535.4) scale(0.76 1) translate(-113.88 -535.4)" stroke="#000" stroke-width="0.3">10</text>
<text x="124.04" y="535.4" font-size="10.4" fill="#000" font-weight="bold" text-anchor="middle" transform="translate(124.04 535.4) scale(0.78 1) translate(-124.04 -535.4)" stroke="#000" stroke-width="0.3">8</text>
<text x="133.8" y="535.4" font-size="10.4" fill="#000" font-weight="bold" text-anchor="middle" transform="translate(133.8 535.4) scale(0.78 1) translate(-133.8 -535.4)" stroke="#000" stroke-width="0.3">6</text>
<text x="143.56" y="535.4" font-size="10.4" fill="#000" font-weight="bold" text-anchor="middle" transform="translate(143.56 535.4) scale(0.78 1) translate(-143.56 -535.4)" stroke="#000" stroke-width="0.3">4</text>
<text x="153.32" y="535.4" font-size="10.4" fill="#000" font-weight="bold" text-anchor="middle" transform="translate(153.32 535.4) scale(0.78 1) translate(-153.32 -535.4)" stroke="#000" stroke-width="0.3">2</text>
<rect x="170.02" y="425.9" width="4.4" height="97.7" fill="#f2c4c4" stroke="none" stroke-width="1" rx="0" />
<line x1="161.06" y1="389.75" x2="202.26" y2="389.75" stroke="#178a17" stroke-width="3.9" />
<text x="182.46" y="405.2" font-size="11.2" fill="#1f8a1f" font-weight="bold" text-anchor="middle">2.10 V</text>
<polyline points="162.46,434.7 167.34,434.7 172.22,465.7 177.1,466.19 181.98,467.17 186.86,466.68 191.74,466.19 196.62,466.19 201.5,465.7" fill="none" stroke="#178a17" stroke-width="1.9" />
<polyline points="162.46,517.96 167.34,517.96 172.22,482.89 177.1,481.52 181.98,480.15 186.86,480.97 191.74,482.62 196.62,482.62 201.5,483.44" fill="none" stroke="#178a17" stroke-width="1.9" />
<circle cx="162.46" cy="434.7" r="2.85" fill="#178a17" />
<circle cx="167.34" cy="434.7" r="2.85" fill="#178a17" />
<circle cx="172.22" cy="465.7" r="2.85" fill="#178a17" />
<circle cx="177.1" cy="466.19" r="2.85" fill="#178a17" />
<circle cx="181.98" cy="467.17" r="2.85" fill="#178a17" />
<circle cx="186.86" cy="466.68" r="2.85" fill="#178a17" />
<circle cx="191.74" cy="466.19" r="2.85" fill="#178a17" />
<circle cx="196.62" cy="466.19" r="2.85" fill="#178a17" />
<circle cx="201.5" cy="465.7" r="2.85" fill="#178a17" />
<circle cx="162.46" cy="517.96" r="2.85" fill="#178a17" />
<circle cx="167.34" cy="517.96" r="2.85" fill="#178a17" />
<circle cx="172.22" cy="482.89" r="2.85" fill="#178a17" />
<circle cx="177.1" cy="481.52" r="2.85" fill="#178a17" />
<circle cx="181.98" cy="480.15" r="2.85" fill="#178a17" />
<circle cx="186.86" cy="480.97" r="2.85" fill="#178a17" />
<circle cx="191.74" cy="482.62" r="2.85" fill="#178a17" />
<circle cx="196.62" cy="482.62" r="2.85" fill="#178a17" />
<circle cx="201.5" cy="483.44" r="2.85" fill="#178a17" />
<rect x="160.06" y="377.5" width="43.2" height="146.1" fill="none" stroke="#000" stroke-width="1.6" rx="0" />
<line x1="160.06" y1="425.9" x2="203.26" y2="425.9" stroke="#000" stroke-width="1.6" />
<line x1="160.06" y1="474.9" x2="203.26" y2="474.9" stroke="#000" stroke-width="1.6" />
<line x1="162.46" y1="425.9" x2="162.46" y2="423.3" stroke="#000" stroke-width="1" />
<line x1="167.34" y1="425.9" x2="167.34" y2="424.3" stroke="#000" stroke-width="1" />
<line x1="172.22" y1="425.9" x2="172.22" y2="423.3" stroke="#000" stroke-width="1" />
<line x1="177.1" y1="425.9" x2="177.1" y2="424.3" stroke="#000" stroke-width="1" />
<line x1="181.98" y1="425.9" x2="181.98" y2="423.3" stroke="#000" stroke-width="1" />
<line x1="186.86" y1="425.9" x2="186.86" y2="424.3" stroke="#000" stroke-width="1" />
<line x1="191.74" y1="425.9" x2="191.74" y2="423.3" stroke="#000" stroke-width="1" />
<line x1="196.62" y1="425.9" x2="196.62" y2="424.3" stroke="#000" stroke-width="1" />
<line x1="201.5" y1="425.9" x2="201.5" y2="423.3" stroke="#000" stroke-width="1" />
<line x1="162.46" y1="474.9" x2="162.46" y2="472.3" stroke="#000" stroke-width="1" />
<line x1="167.34" y1="474.9" x2="167.34" y2="473.3" stroke="#000" stroke-width="1" />
<line x1="172.22" y1="474.9" x2="172.22" y2="472.3" stroke="#000" stroke-width="1" />
<line x1="177.1" y1="474.9" x2="177.1" y2="473.3" stroke="#000" stroke-width="1" />
<line x1="181.98" y1="474.9" x2="181.98" y2="472.3" stroke="#000" stroke-width="1" />
<line x1="186.86" y1="474.9" x2="186.86" y2="473.3" stroke="#000" stroke-width="1" />
<line x1="191.74" y1="474.9" x2="191.74" y2="472.3" stroke="#000" stroke-width="1" />
<line x1="196.62" y1="474.9" x2="196.62" y2="473.3" stroke="#000" stroke-width="1" />
<line x1="201.5" y1="474.9" x2="201.5" y2="472.3" stroke="#000" stroke-width="1" />
<line x1="162.46" y1="523.6" x2="162.46" y2="521" stroke="#000" stroke-width="1" />
<line x1="167.34" y1="523.6" x2="167.34" y2="522" stroke="#000" stroke-width="1" />
<line x1="172.22" y1="523.6" x2="172.22" y2="521" stroke="#000" stroke-width="1" />
<line x1="177.1" y1="523.6" x2="177.1" y2="522" stroke="#000" stroke-width="1" />
<line x1="181.98" y1="523.6" x2="181.98" y2="521" stroke="#000" stroke-width="1" />
<line x1="186.86" y1="523.6" x2="186.86" y2="522" stroke="#000" stroke-width="1" />
<line x1="191.74" y1="523.6" x2="191.74" y2="521" stroke="#000" stroke-width="1" />
<line x1="196.62" y1="523.6" x2="196.62" y2="522" stroke="#000" stroke-width="1" />
<line x1="201.5" y1="523.6" x2="201.5" y2="521" stroke="#000" stroke-width="1" />
<line x1="160.06" y1="420.5" x2="162.66" y2="420.5" stroke="#000" stroke-width="1" />
<line x1="160.06" y1="414.35" x2="161.66" y2="414.35" stroke="#000" stroke-width="1" />
<line x1="160.06" y1="408.2" x2="162.66" y2="408.2" stroke="#000" stroke-width="1" />
<line x1="160.06" y1="402.05" x2="161.66" y2="402.05" stroke="#000" stroke-width="1" />
<line x1="160.06" y1="395.9" x2="162.66" y2="395.9" stroke="#000" stroke-width="1" />
<line x1="160.06" y1="389.75" x2="161.66" y2="389.75" stroke="#000" stroke-width="1" />
<line x1="160.06" y1="383.6" x2="162.66" y2="383.6" stroke="#000" stroke-width="1" />
<line x1="160.06" y1="471.6" x2="162.66" y2="471.6" stroke="#000" stroke-width="1" />
<line x1="160.06" y1="464.22" x2="161.66" y2="464.22" stroke="#000" stroke-width="1" />
<line x1="160.06" y1="456.84" x2="162.66" y2="456.84" stroke="#000" stroke-width="1" />
<line x1="160.06" y1="449.46" x2="161.66" y2="449.46" stroke="#000" stroke-width="1" />
<line x1="160.06" y1="442.08" x2="162.66" y2="442.08" stroke="#000" stroke-width="1" />
<line x1="160.06" y1="434.7" x2="161.66" y2="434.7" stroke="#000" stroke-width="1" />
<line x1="160.06" y1="514.4" x2="162.66" y2="514.4" stroke="#000" stroke-width="1" />
<line x1="160.06" y1="507.55" x2="161.66" y2="507.55" stroke="#000" stroke-width="1" />
<line x1="160.06" y1="500.7" x2="162.66" y2="500.7" stroke="#000" stroke-width="1" />
<line x1="160.06" y1="493.85" x2="161.66" y2="493.85" stroke="#000" stroke-width="1" />
<line x1="160.06" y1="487" x2="162.66" y2="487" stroke="#000" stroke-width="1" />
<line x1="160.06" y1="480.15" x2="161.66" y2="480.15" stroke="#000" stroke-width="1" />
<text x="162.16" y="535.4" font-size="10.4" fill="#000" font-weight="bold" text-anchor="middle" transform="translate(162.16 535.4) scale(0.76 1) translate(-162.16 -535.4)" stroke="#000" stroke-width="0.3">10</text>
<text x="172.32" y="535.4" font-size="10.4" fill="#000" font-weight="bold" text-anchor="middle" transform="translate(172.32 535.4) scale(0.78 1) translate(-172.32 -535.4)" stroke="#000" stroke-width="0.3">8</text>
<text x="182.08" y="535.4" font-size="10.4" fill="#000" font-weight="bold" text-anchor="middle" transform="translate(182.08 535.4) scale(0.78 1) translate(-182.08 -535.4)" stroke="#000" stroke-width="0.3">6</text>
<text x="191.84" y="535.4" font-size="10.4" fill="#000" font-weight="bold" text-anchor="middle" transform="translate(191.84 535.4) scale(0.78 1) translate(-191.84 -535.4)" stroke="#000" stroke-width="0.3">4</text>
<text x="201.6" y="535.4" font-size="10.4" fill="#000" font-weight="bold" text-anchor="middle" transform="translate(201.6 535.4) scale(0.78 1) translate(-201.6 -535.4)" stroke="#000" stroke-width="0.3">2</text>
<rect x="223.18" y="425.9" width="4.4" height="97.7" fill="#f2c4c4" stroke="none" stroke-width="1" rx="0" />
<line x1="209.34" y1="393.44" x2="250.54" y2="393.44" stroke="#138585" stroke-width="3.9" />
<text x="230.74" y="409.4" font-size="11.2" fill="#1f9f9f" font-weight="bold" text-anchor="middle">2.04 V</text>
<polyline points="210.74,434.7 215.62,435.19 220.5,436.18 225.38,466.68 230.26,467.17 235.14,466.68 240.02,465.7 244.9,466.19 249.78,466.19" fill="none" stroke="#138585" stroke-width="1.9" />
<polyline points="210.74,517.96 215.62,517.96 220.5,517.96 225.38,482.07 230.26,480.97 235.14,480.97 240.02,483.16 244.9,482.34 249.78,482.07" fill="none" stroke="#138585" stroke-width="1.9" />
<circle cx="210.74" cy="434.7" r="2.85" fill="#138585" />
<circle cx="215.62" cy="435.19" r="2.85" fill="#138585" />
<circle cx="220.5" cy="436.18" r="2.85" fill="#138585" />
<circle cx="225.38" cy="466.68" r="2.85" fill="#138585" />
<circle cx="230.26" cy="467.17" r="2.85" fill="#138585" />
<circle cx="235.14" cy="466.68" r="2.85" fill="#138585" />
<circle cx="240.02" cy="465.7" r="2.85" fill="#138585" />
<circle cx="244.9" cy="466.19" r="2.85" fill="#138585" />
<circle cx="249.78" cy="466.19" r="2.85" fill="#138585" />
<circle cx="210.74" cy="517.96" r="2.85" fill="#138585" />
<circle cx="215.62" cy="517.96" r="2.85" fill="#138585" />
<circle cx="220.5" cy="517.96" r="2.85" fill="#138585" />
<circle cx="225.38" cy="482.07" r="2.85" fill="#138585" />
<circle cx="230.26" cy="480.97" r="2.85" fill="#138585" />
<circle cx="235.14" cy="480.97" r="2.85" fill="#138585" />
<circle cx="240.02" cy="483.16" r="2.85" fill="#138585" />
<circle cx="244.9" cy="482.34" r="2.85" fill="#138585" />
<circle cx="249.78" cy="482.07" r="2.85" fill="#138585" />
<rect x="208.34" y="377.5" width="43.2" height="146.1" fill="none" stroke="#000" stroke-width="1.6" rx="0" />
<line x1="208.34" y1="425.9" x2="251.54" y2="425.9" stroke="#000" stroke-width="1.6" />
<line x1="208.34" y1="474.9" x2="251.54" y2="474.9" stroke="#000" stroke-width="1.6" />
<line x1="210.74" y1="425.9" x2="210.74" y2="423.3" stroke="#000" stroke-width="1" />
<line x1="215.62" y1="425.9" x2="215.62" y2="424.3" stroke="#000" stroke-width="1" />
<line x1="220.5" y1="425.9" x2="220.5" y2="423.3" stroke="#000" stroke-width="1" />
<line x1="225.38" y1="425.9" x2="225.38" y2="424.3" stroke="#000" stroke-width="1" />
<line x1="230.26" y1="425.9" x2="230.26" y2="423.3" stroke="#000" stroke-width="1" />
<line x1="235.14" y1="425.9" x2="235.14" y2="424.3" stroke="#000" stroke-width="1" />
<line x1="240.02" y1="425.9" x2="240.02" y2="423.3" stroke="#000" stroke-width="1" />
<line x1="244.9" y1="425.9" x2="244.9" y2="424.3" stroke="#000" stroke-width="1" />
<line x1="249.78" y1="425.9" x2="249.78" y2="423.3" stroke="#000" stroke-width="1" />
<line x1="210.74" y1="474.9" x2="210.74" y2="472.3" stroke="#000" stroke-width="1" />
<line x1="215.62" y1="474.9" x2="215.62" y2="473.3" stroke="#000" stroke-width="1" />
<line x1="220.5" y1="474.9" x2="220.5" y2="472.3" stroke="#000" stroke-width="1" />
<line x1="225.38" y1="474.9" x2="225.38" y2="473.3" stroke="#000" stroke-width="1" />
<line x1="230.26" y1="474.9" x2="230.26" y2="472.3" stroke="#000" stroke-width="1" />
<line x1="235.14" y1="474.9" x2="235.14" y2="473.3" stroke="#000" stroke-width="1" />
<line x1="240.02" y1="474.9" x2="240.02" y2="472.3" stroke="#000" stroke-width="1" />
<line x1="244.9" y1="474.9" x2="244.9" y2="473.3" stroke="#000" stroke-width="1" />
<line x1="249.78" y1="474.9" x2="249.78" y2="472.3" stroke="#000" stroke-width="1" />
<line x1="210.74" y1="523.6" x2="210.74" y2="521" stroke="#000" stroke-width="1" />
<line x1="215.62" y1="523.6" x2="215.62" y2="522" stroke="#000" stroke-width="1" />
<line x1="220.5" y1="523.6" x2="220.5" y2="521" stroke="#000" stroke-width="1" />
<line x1="225.38" y1="523.6" x2="225.38" y2="522" stroke="#000" stroke-width="1" />
<line x1="230.26" y1="523.6" x2="230.26" y2="521" stroke="#000" stroke-width="1" />
<line x1="235.14" y1="523.6" x2="235.14" y2="522" stroke="#000" stroke-width="1" />
<line x1="240.02" y1="523.6" x2="240.02" y2="521" stroke="#000" stroke-width="1" />
<line x1="244.9" y1="523.6" x2="244.9" y2="522" stroke="#000" stroke-width="1" />
<line x1="249.78" y1="523.6" x2="249.78" y2="521" stroke="#000" stroke-width="1" />
<line x1="208.34" y1="420.5" x2="210.94" y2="420.5" stroke="#000" stroke-width="1" />
<line x1="208.34" y1="414.35" x2="209.94" y2="414.35" stroke="#000" stroke-width="1" />
<line x1="208.34" y1="408.2" x2="210.94" y2="408.2" stroke="#000" stroke-width="1" />
<line x1="208.34" y1="402.05" x2="209.94" y2="402.05" stroke="#000" stroke-width="1" />
<line x1="208.34" y1="395.9" x2="210.94" y2="395.9" stroke="#000" stroke-width="1" />
<line x1="208.34" y1="389.75" x2="209.94" y2="389.75" stroke="#000" stroke-width="1" />
<line x1="208.34" y1="383.6" x2="210.94" y2="383.6" stroke="#000" stroke-width="1" />
<line x1="208.34" y1="471.6" x2="210.94" y2="471.6" stroke="#000" stroke-width="1" />
<line x1="208.34" y1="464.22" x2="209.94" y2="464.22" stroke="#000" stroke-width="1" />
<line x1="208.34" y1="456.84" x2="210.94" y2="456.84" stroke="#000" stroke-width="1" />
<line x1="208.34" y1="449.46" x2="209.94" y2="449.46" stroke="#000" stroke-width="1" />
<line x1="208.34" y1="442.08" x2="210.94" y2="442.08" stroke="#000" stroke-width="1" />
<line x1="208.34" y1="434.7" x2="209.94" y2="434.7" stroke="#000" stroke-width="1" />
<line x1="208.34" y1="514.4" x2="210.94" y2="514.4" stroke="#000" stroke-width="1" />
<line x1="208.34" y1="507.55" x2="209.94" y2="507.55" stroke="#000" stroke-width="1" />
<line x1="208.34" y1="500.7" x2="210.94" y2="500.7" stroke="#000" stroke-width="1" />
<line x1="208.34" y1="493.85" x2="209.94" y2="493.85" stroke="#000" stroke-width="1" />
<line x1="208.34" y1="487" x2="210.94" y2="487" stroke="#000" stroke-width="1" />
<line x1="208.34" y1="480.15" x2="209.94" y2="480.15" stroke="#000" stroke-width="1" />
<text x="210.44" y="535.4" font-size="10.4" fill="#000" font-weight="bold" text-anchor="middle" transform="translate(210.44 535.4) scale(0.76 1) translate(-210.44 -535.4)" stroke="#000" stroke-width="0.3">10</text>
<text x="220.6" y="535.4" font-size="10.4" fill="#000" font-weight="bold" text-anchor="middle" transform="translate(220.6 535.4) scale(0.78 1) translate(-220.6 -535.4)" stroke="#000" stroke-width="0.3">8</text>
<text x="230.36" y="535.4" font-size="10.4" fill="#000" font-weight="bold" text-anchor="middle" transform="translate(230.36 535.4) scale(0.78 1) translate(-230.36 -535.4)" stroke="#000" stroke-width="0.3">6</text>
<text x="240.12" y="535.4" font-size="10.4" fill="#000" font-weight="bold" text-anchor="middle" transform="translate(240.12 535.4) scale(0.78 1) translate(-240.12 -535.4)" stroke="#000" stroke-width="0.3">4</text>
<text x="249.88" y="535.4" font-size="10.4" fill="#000" font-weight="bold" text-anchor="middle" transform="translate(249.88 535.4) scale(0.78 1) translate(-249.88 -535.4)" stroke="#000" stroke-width="0.3">2</text>
<rect x="276.34" y="425.9" width="4.4" height="97.7" fill="#f2c4c4" stroke="none" stroke-width="1" rx="0" />
<line x1="257.62" y1="395.9" x2="298.82" y2="395.9" stroke="#00f0f0" stroke-width="3.9" />
<text x="279.02" y="410" font-size="11.2" fill="#1f9f9f" font-weight="bold" text-anchor="middle">2.00 V</text>
<polyline points="259.02,434.7 263.9,434.7 268.78,434.7 273.66,434.21 278.54,465.7 283.42,465.7 288.3,465.7 293.18,465.7 298.06,465.7" fill="none" stroke="#00f0f0" stroke-width="1.9" />
<polyline points="259.02,519.33 263.9,519.33 268.78,519.33 273.66,519.33 278.54,483.71 283.42,483.71 288.3,483.71 293.18,483.71 298.06,483.71" fill="none" stroke="#00f0f0" stroke-width="1.9" />
<circle cx="259.02" cy="434.7" r="2.85" fill="#00f0f0" />
<circle cx="263.9" cy="434.7" r="2.85" fill="#00f0f0" />
<circle cx="268.78" cy="434.7" r="2.85" fill="#00f0f0" />
<circle cx="273.66" cy="434.21" r="2.85" fill="#00f0f0" />
<circle cx="278.54" cy="465.7" r="2.85" fill="#00f0f0" />
<circle cx="283.42" cy="465.7" r="2.85" fill="#00f0f0" />
<circle cx="288.3" cy="465.7" r="2.85" fill="#00f0f0" />
<circle cx="293.18" cy="465.7" r="2.85" fill="#00f0f0" />
<circle cx="298.06" cy="465.7" r="2.85" fill="#00f0f0" />
<circle cx="259.02" cy="519.33" r="2.85" fill="#00f0f0" />
<circle cx="263.9" cy="519.33" r="2.85" fill="#00f0f0" />
<circle cx="268.78" cy="519.33" r="2.85" fill="#00f0f0" />
<circle cx="273.66" cy="519.33" r="2.85" fill="#00f0f0" />
<circle cx="278.54" cy="483.71" r="2.85" fill="#00f0f0" />
<circle cx="283.42" cy="483.71" r="2.85" fill="#00f0f0" />
<circle cx="288.3" cy="483.71" r="2.85" fill="#00f0f0" />
<circle cx="293.18" cy="483.71" r="2.85" fill="#00f0f0" />
<circle cx="298.06" cy="483.71" r="2.85" fill="#00f0f0" />
<rect x="256.62" y="377.5" width="43.2" height="146.1" fill="none" stroke="#000" stroke-width="1.6" rx="0" />
<line x1="256.62" y1="425.9" x2="299.82" y2="425.9" stroke="#000" stroke-width="1.6" />
<line x1="256.62" y1="474.9" x2="299.82" y2="474.9" stroke="#000" stroke-width="1.6" />
<line x1="259.02" y1="425.9" x2="259.02" y2="423.3" stroke="#000" stroke-width="1" />
<line x1="263.9" y1="425.9" x2="263.9" y2="424.3" stroke="#000" stroke-width="1" />
<line x1="268.78" y1="425.9" x2="268.78" y2="423.3" stroke="#000" stroke-width="1" />
<line x1="273.66" y1="425.9" x2="273.66" y2="424.3" stroke="#000" stroke-width="1" />
<line x1="278.54" y1="425.9" x2="278.54" y2="423.3" stroke="#000" stroke-width="1" />
<line x1="283.42" y1="425.9" x2="283.42" y2="424.3" stroke="#000" stroke-width="1" />
<line x1="288.3" y1="425.9" x2="288.3" y2="423.3" stroke="#000" stroke-width="1" />
<line x1="293.18" y1="425.9" x2="293.18" y2="424.3" stroke="#000" stroke-width="1" />
<line x1="298.06" y1="425.9" x2="298.06" y2="423.3" stroke="#000" stroke-width="1" />
<line x1="259.02" y1="474.9" x2="259.02" y2="472.3" stroke="#000" stroke-width="1" />
<line x1="263.9" y1="474.9" x2="263.9" y2="473.3" stroke="#000" stroke-width="1" />
<line x1="268.78" y1="474.9" x2="268.78" y2="472.3" stroke="#000" stroke-width="1" />
<line x1="273.66" y1="474.9" x2="273.66" y2="473.3" stroke="#000" stroke-width="1" />
<line x1="278.54" y1="474.9" x2="278.54" y2="472.3" stroke="#000" stroke-width="1" />
<line x1="283.42" y1="474.9" x2="283.42" y2="473.3" stroke="#000" stroke-width="1" />
<line x1="288.3" y1="474.9" x2="288.3" y2="472.3" stroke="#000" stroke-width="1" />
<line x1="293.18" y1="474.9" x2="293.18" y2="473.3" stroke="#000" stroke-width="1" />
<line x1="298.06" y1="474.9" x2="298.06" y2="472.3" stroke="#000" stroke-width="1" />
<line x1="259.02" y1="523.6" x2="259.02" y2="521" stroke="#000" stroke-width="1" />
<line x1="263.9" y1="523.6" x2="263.9" y2="522" stroke="#000" stroke-width="1" />
<line x1="268.78" y1="523.6" x2="268.78" y2="521" stroke="#000" stroke-width="1" />
<line x1="273.66" y1="523.6" x2="273.66" y2="522" stroke="#000" stroke-width="1" />
<line x1="278.54" y1="523.6" x2="278.54" y2="521" stroke="#000" stroke-width="1" />
<line x1="283.42" y1="523.6" x2="283.42" y2="522" stroke="#000" stroke-width="1" />
<line x1="288.3" y1="523.6" x2="288.3" y2="521" stroke="#000" stroke-width="1" />
<line x1="293.18" y1="523.6" x2="293.18" y2="522" stroke="#000" stroke-width="1" />
<line x1="298.06" y1="523.6" x2="298.06" y2="521" stroke="#000" stroke-width="1" />
<line x1="256.62" y1="420.5" x2="259.22" y2="420.5" stroke="#000" stroke-width="1" />
<line x1="256.62" y1="414.35" x2="258.22" y2="414.35" stroke="#000" stroke-width="1" />
<line x1="256.62" y1="408.2" x2="259.22" y2="408.2" stroke="#000" stroke-width="1" />
<line x1="256.62" y1="402.05" x2="258.22" y2="402.05" stroke="#000" stroke-width="1" />
<line x1="256.62" y1="395.9" x2="259.22" y2="395.9" stroke="#000" stroke-width="1" />
<line x1="256.62" y1="389.75" x2="258.22" y2="389.75" stroke="#000" stroke-width="1" />
<line x1="256.62" y1="383.6" x2="259.22" y2="383.6" stroke="#000" stroke-width="1" />
<line x1="256.62" y1="471.6" x2="259.22" y2="471.6" stroke="#000" stroke-width="1" />
<line x1="256.62" y1="464.22" x2="258.22" y2="464.22" stroke="#000" stroke-width="1" />
<line x1="256.62" y1="456.84" x2="259.22" y2="456.84" stroke="#000" stroke-width="1" />
<line x1="256.62" y1="449.46" x2="258.22" y2="449.46" stroke="#000" stroke-width="1" />
<line x1="256.62" y1="442.08" x2="259.22" y2="442.08" stroke="#000" stroke-width="1" />
<line x1="256.62" y1="434.7" x2="258.22" y2="434.7" stroke="#000" stroke-width="1" />
<line x1="256.62" y1="514.4" x2="259.22" y2="514.4" stroke="#000" stroke-width="1" />
<line x1="256.62" y1="507.55" x2="258.22" y2="507.55" stroke="#000" stroke-width="1" />
<line x1="256.62" y1="500.7" x2="259.22" y2="500.7" stroke="#000" stroke-width="1" />
<line x1="256.62" y1="493.85" x2="258.22" y2="493.85" stroke="#000" stroke-width="1" />
<line x1="256.62" y1="487" x2="259.22" y2="487" stroke="#000" stroke-width="1" />
<line x1="256.62" y1="480.15" x2="258.22" y2="480.15" stroke="#000" stroke-width="1" />
<text x="258.72" y="535.4" font-size="10.4" fill="#000" font-weight="bold" text-anchor="middle" transform="translate(258.72 535.4) scale(0.76 1) translate(-258.72 -535.4)" stroke="#000" stroke-width="0.3">10</text>
<text x="268.88" y="535.4" font-size="10.4" fill="#000" font-weight="bold" text-anchor="middle" transform="translate(268.88 535.4) scale(0.78 1) translate(-268.88 -535.4)" stroke="#000" stroke-width="0.3">8</text>
<text x="278.64" y="535.4" font-size="10.4" fill="#000" font-weight="bold" text-anchor="middle" transform="translate(278.64 535.4) scale(0.78 1) translate(-278.64 -535.4)" stroke="#000" stroke-width="0.3">6</text>
<text x="288.4" y="535.4" font-size="10.4" fill="#000" font-weight="bold" text-anchor="middle" transform="translate(288.4 535.4) scale(0.78 1) translate(-288.4 -535.4)" stroke="#000" stroke-width="0.3">4</text>
<text x="298.16" y="535.4" font-size="10.4" fill="#000" font-weight="bold" text-anchor="middle" transform="translate(298.16 535.4) scale(0.78 1) translate(-298.16 -535.4)" stroke="#000" stroke-width="0.3">2</text>
<rect x="329.5" y="425.9" width="4.4" height="97.7" fill="#f2c4c4" stroke="none" stroke-width="1" rx="0" />
<line x1="305.9" y1="402.05" x2="347.1" y2="402.05" stroke="#88f6f6" stroke-width="3.9" />
<text x="327.3" y="416.6" font-size="11.2" fill="#1f9f9f" font-weight="bold" text-anchor="middle">1.90 V</text>
<polyline points="307.3,434.7 312.18,434.7 317.06,434.7 321.94,434.7 326.82,439.62 331.7,465.7 336.58,465.7 341.46,466.19 346.34,466.19" fill="none" stroke="#88f6f6" stroke-width="1.9" />
<polyline points="307.3,519.33 312.18,519.33 317.06,519.33 321.94,519.33 326.82,516.59 331.7,483.16 336.58,486.18 341.46,483.99 346.34,484.81" fill="none" stroke="#88f6f6" stroke-width="1.9" />
<circle cx="307.3" cy="434.7" r="2.85" fill="#88f6f6" />
<circle cx="312.18" cy="434.7" r="2.85" fill="#88f6f6" />
<circle cx="317.06" cy="434.7" r="2.85" fill="#88f6f6" />
<circle cx="321.94" cy="434.7" r="2.85" fill="#88f6f6" />
<circle cx="326.82" cy="439.62" r="2.85" fill="#88f6f6" />
<circle cx="331.7" cy="465.7" r="2.85" fill="#88f6f6" />
<circle cx="336.58" cy="465.7" r="2.85" fill="#88f6f6" />
<circle cx="341.46" cy="466.19" r="2.85" fill="#88f6f6" />
<circle cx="346.34" cy="466.19" r="2.85" fill="#88f6f6" />
<circle cx="307.3" cy="519.33" r="2.85" fill="#88f6f6" />
<circle cx="312.18" cy="519.33" r="2.85" fill="#88f6f6" />
<circle cx="317.06" cy="519.33" r="2.85" fill="#88f6f6" />
<circle cx="321.94" cy="519.33" r="2.85" fill="#88f6f6" />
<circle cx="326.82" cy="516.59" r="2.85" fill="#88f6f6" />
<circle cx="331.7" cy="483.16" r="2.85" fill="#88f6f6" />
<circle cx="336.58" cy="486.18" r="2.85" fill="#88f6f6" />
<circle cx="341.46" cy="483.99" r="2.85" fill="#88f6f6" />
<circle cx="346.34" cy="484.81" r="2.85" fill="#88f6f6" />
<rect x="304.9" y="377.5" width="43.2" height="146.1" fill="none" stroke="#000" stroke-width="1.6" rx="0" />
<line x1="304.9" y1="425.9" x2="348.1" y2="425.9" stroke="#000" stroke-width="1.6" />
<line x1="304.9" y1="474.9" x2="348.1" y2="474.9" stroke="#000" stroke-width="1.6" />
<line x1="307.3" y1="425.9" x2="307.3" y2="423.3" stroke="#000" stroke-width="1" />
<line x1="312.18" y1="425.9" x2="312.18" y2="424.3" stroke="#000" stroke-width="1" />
<line x1="317.06" y1="425.9" x2="317.06" y2="423.3" stroke="#000" stroke-width="1" />
<line x1="321.94" y1="425.9" x2="321.94" y2="424.3" stroke="#000" stroke-width="1" />
<line x1="326.82" y1="425.9" x2="326.82" y2="423.3" stroke="#000" stroke-width="1" />
<line x1="331.7" y1="425.9" x2="331.7" y2="424.3" stroke="#000" stroke-width="1" />
<line x1="336.58" y1="425.9" x2="336.58" y2="423.3" stroke="#000" stroke-width="1" />
<line x1="341.46" y1="425.9" x2="341.46" y2="424.3" stroke="#000" stroke-width="1" />
<line x1="346.34" y1="425.9" x2="346.34" y2="423.3" stroke="#000" stroke-width="1" />
<line x1="307.3" y1="474.9" x2="307.3" y2="472.3" stroke="#000" stroke-width="1" />
<line x1="312.18" y1="474.9" x2="312.18" y2="473.3" stroke="#000" stroke-width="1" />
<line x1="317.06" y1="474.9" x2="317.06" y2="472.3" stroke="#000" stroke-width="1" />
<line x1="321.94" y1="474.9" x2="321.94" y2="473.3" stroke="#000" stroke-width="1" />
<line x1="326.82" y1="474.9" x2="326.82" y2="472.3" stroke="#000" stroke-width="1" />
<line x1="331.7" y1="474.9" x2="331.7" y2="473.3" stroke="#000" stroke-width="1" />
<line x1="336.58" y1="474.9" x2="336.58" y2="472.3" stroke="#000" stroke-width="1" />
<line x1="341.46" y1="474.9" x2="341.46" y2="473.3" stroke="#000" stroke-width="1" />
<line x1="346.34" y1="474.9" x2="346.34" y2="472.3" stroke="#000" stroke-width="1" />
<line x1="307.3" y1="523.6" x2="307.3" y2="521" stroke="#000" stroke-width="1" />
<line x1="312.18" y1="523.6" x2="312.18" y2="522" stroke="#000" stroke-width="1" />
<line x1="317.06" y1="523.6" x2="317.06" y2="521" stroke="#000" stroke-width="1" />
<line x1="321.94" y1="523.6" x2="321.94" y2="522" stroke="#000" stroke-width="1" />
<line x1="326.82" y1="523.6" x2="326.82" y2="521" stroke="#000" stroke-width="1" />
<line x1="331.7" y1="523.6" x2="331.7" y2="522" stroke="#000" stroke-width="1" />
<line x1="336.58" y1="523.6" x2="336.58" y2="521" stroke="#000" stroke-width="1" />
<line x1="341.46" y1="523.6" x2="341.46" y2="522" stroke="#000" stroke-width="1" />
<line x1="346.34" y1="523.6" x2="346.34" y2="521" stroke="#000" stroke-width="1" />
<line x1="304.9" y1="420.5" x2="307.5" y2="420.5" stroke="#000" stroke-width="1" />
<line x1="304.9" y1="414.35" x2="306.5" y2="414.35" stroke="#000" stroke-width="1" />
<line x1="304.9" y1="408.2" x2="307.5" y2="408.2" stroke="#000" stroke-width="1" />
<line x1="304.9" y1="402.05" x2="306.5" y2="402.05" stroke="#000" stroke-width="1" />
<line x1="304.9" y1="395.9" x2="307.5" y2="395.9" stroke="#000" stroke-width="1" />
<line x1="304.9" y1="389.75" x2="306.5" y2="389.75" stroke="#000" stroke-width="1" />
<line x1="304.9" y1="383.6" x2="307.5" y2="383.6" stroke="#000" stroke-width="1" />
<line x1="304.9" y1="471.6" x2="307.5" y2="471.6" stroke="#000" stroke-width="1" />
<line x1="304.9" y1="464.22" x2="306.5" y2="464.22" stroke="#000" stroke-width="1" />
<line x1="304.9" y1="456.84" x2="307.5" y2="456.84" stroke="#000" stroke-width="1" />
<line x1="304.9" y1="449.46" x2="306.5" y2="449.46" stroke="#000" stroke-width="1" />
<line x1="304.9" y1="442.08" x2="307.5" y2="442.08" stroke="#000" stroke-width="1" />
<line x1="304.9" y1="434.7" x2="306.5" y2="434.7" stroke="#000" stroke-width="1" />
<line x1="304.9" y1="514.4" x2="307.5" y2="514.4" stroke="#000" stroke-width="1" />
<line x1="304.9" y1="507.55" x2="306.5" y2="507.55" stroke="#000" stroke-width="1" />
<line x1="304.9" y1="500.7" x2="307.5" y2="500.7" stroke="#000" stroke-width="1" />
<line x1="304.9" y1="493.85" x2="306.5" y2="493.85" stroke="#000" stroke-width="1" />
<line x1="304.9" y1="487" x2="307.5" y2="487" stroke="#000" stroke-width="1" />
<line x1="304.9" y1="480.15" x2="306.5" y2="480.15" stroke="#000" stroke-width="1" />
<text x="307" y="535.4" font-size="10.4" fill="#000" font-weight="bold" text-anchor="middle" transform="translate(307 535.4) scale(0.76 1) translate(-307 -535.4)" stroke="#000" stroke-width="0.3">10</text>
<text x="317.16" y="535.4" font-size="10.4" fill="#000" font-weight="bold" text-anchor="middle" transform="translate(317.16 535.4) scale(0.78 1) translate(-317.16 -535.4)" stroke="#000" stroke-width="0.3">8</text>
<text x="326.92" y="535.4" font-size="10.4" fill="#000" font-weight="bold" text-anchor="middle" transform="translate(326.92 535.4) scale(0.78 1) translate(-326.92 -535.4)" stroke="#000" stroke-width="0.3">6</text>
<text x="336.68" y="535.4" font-size="10.4" fill="#000" font-weight="bold" text-anchor="middle" transform="translate(336.68 535.4) scale(0.78 1) translate(-336.68 -535.4)" stroke="#000" stroke-width="0.3">4</text>
<text x="346.44" y="535.4" font-size="10.4" fill="#000" font-weight="bold" text-anchor="middle" transform="translate(346.44 535.4) scale(0.78 1) translate(-346.44 -535.4)" stroke="#000" stroke-width="0.3">2</text>
<rect x="382.66" y="425.9" width="4.4" height="97.7" fill="#f2c4c4" stroke="none" stroke-width="1" rx="0" />
<line x1="354.18" y1="411.89" x2="395.38" y2="411.89" stroke="#bdbdbd" stroke-width="3.9" />
<text x="375.58" y="405.5" font-size="11.2" fill="#a0a0a0" font-weight="bold" text-anchor="middle">1.74 V</text>
<polyline points="355.58,434.7 360.46,434.7 365.34,434.7 370.22,434.7 375.1,434.7 379.98,434.7 384.86,465.7 389.74,464.71 394.62,467.17" fill="none" stroke="#bdbdbd" stroke-width="1.9" />
<polyline points="355.58,519.33 360.46,519.33 365.34,519.33 370.22,519.33 375.1,519.33 379.98,519.33 384.86,486.18 389.74,487 394.62,483.16" fill="none" stroke="#bdbdbd" stroke-width="1.9" />
<circle cx="355.58" cy="434.7" r="2.85" fill="#bdbdbd" />
<circle cx="360.46" cy="434.7" r="2.85" fill="#bdbdbd" />
<circle cx="365.34" cy="434.7" r="2.85" fill="#bdbdbd" />
<circle cx="370.22" cy="434.7" r="2.85" fill="#bdbdbd" />
<circle cx="375.1" cy="434.7" r="2.85" fill="#bdbdbd" />
<circle cx="379.98" cy="434.7" r="2.85" fill="#bdbdbd" />
<circle cx="384.86" cy="465.7" r="2.85" fill="#bdbdbd" />
<circle cx="389.74" cy="464.71" r="2.85" fill="#bdbdbd" />
<circle cx="394.62" cy="467.17" r="2.85" fill="#bdbdbd" />
<circle cx="355.58" cy="519.33" r="2.85" fill="#bdbdbd" />
<circle cx="360.46" cy="519.33" r="2.85" fill="#bdbdbd" />
<circle cx="365.34" cy="519.33" r="2.85" fill="#bdbdbd" />
<circle cx="370.22" cy="519.33" r="2.85" fill="#bdbdbd" />
<circle cx="375.1" cy="519.33" r="2.85" fill="#bdbdbd" />
<circle cx="379.98" cy="519.33" r="2.85" fill="#bdbdbd" />
<circle cx="384.86" cy="486.18" r="2.85" fill="#bdbdbd" />
<circle cx="389.74" cy="487" r="2.85" fill="#bdbdbd" />
<circle cx="394.62" cy="483.16" r="2.85" fill="#bdbdbd" />
<rect x="353.18" y="377.5" width="43.2" height="146.1" fill="none" stroke="#000" stroke-width="1.6" rx="0" />
<line x1="353.18" y1="425.9" x2="396.38" y2="425.9" stroke="#000" stroke-width="1.6" />
<line x1="353.18" y1="474.9" x2="396.38" y2="474.9" stroke="#000" stroke-width="1.6" />
<line x1="355.58" y1="425.9" x2="355.58" y2="423.3" stroke="#000" stroke-width="1" />
<line x1="360.46" y1="425.9" x2="360.46" y2="424.3" stroke="#000" stroke-width="1" />
<line x1="365.34" y1="425.9" x2="365.34" y2="423.3" stroke="#000" stroke-width="1" />
<line x1="370.22" y1="425.9" x2="370.22" y2="424.3" stroke="#000" stroke-width="1" />
<line x1="375.1" y1="425.9" x2="375.1" y2="423.3" stroke="#000" stroke-width="1" />
<line x1="379.98" y1="425.9" x2="379.98" y2="424.3" stroke="#000" stroke-width="1" />
<line x1="384.86" y1="425.9" x2="384.86" y2="423.3" stroke="#000" stroke-width="1" />
<line x1="389.74" y1="425.9" x2="389.74" y2="424.3" stroke="#000" stroke-width="1" />
<line x1="394.62" y1="425.9" x2="394.62" y2="423.3" stroke="#000" stroke-width="1" />
<line x1="355.58" y1="474.9" x2="355.58" y2="472.3" stroke="#000" stroke-width="1" />
<line x1="360.46" y1="474.9" x2="360.46" y2="473.3" stroke="#000" stroke-width="1" />
<line x1="365.34" y1="474.9" x2="365.34" y2="472.3" stroke="#000" stroke-width="1" />
<line x1="370.22" y1="474.9" x2="370.22" y2="473.3" stroke="#000" stroke-width="1" />
<line x1="375.1" y1="474.9" x2="375.1" y2="472.3" stroke="#000" stroke-width="1" />
<line x1="379.98" y1="474.9" x2="379.98" y2="473.3" stroke="#000" stroke-width="1" />
<line x1="384.86" y1="474.9" x2="384.86" y2="472.3" stroke="#000" stroke-width="1" />
<line x1="389.74" y1="474.9" x2="389.74" y2="473.3" stroke="#000" stroke-width="1" />
<line x1="394.62" y1="474.9" x2="394.62" y2="472.3" stroke="#000" stroke-width="1" />
<line x1="355.58" y1="523.6" x2="355.58" y2="521" stroke="#000" stroke-width="1" />
<line x1="360.46" y1="523.6" x2="360.46" y2="522" stroke="#000" stroke-width="1" />
<line x1="365.34" y1="523.6" x2="365.34" y2="521" stroke="#000" stroke-width="1" />
<line x1="370.22" y1="523.6" x2="370.22" y2="522" stroke="#000" stroke-width="1" />
<line x1="375.1" y1="523.6" x2="375.1" y2="521" stroke="#000" stroke-width="1" />
<line x1="379.98" y1="523.6" x2="379.98" y2="522" stroke="#000" stroke-width="1" />
<line x1="384.86" y1="523.6" x2="384.86" y2="521" stroke="#000" stroke-width="1" />
<line x1="389.74" y1="523.6" x2="389.74" y2="522" stroke="#000" stroke-width="1" />
<line x1="394.62" y1="523.6" x2="394.62" y2="521" stroke="#000" stroke-width="1" />
<line x1="353.18" y1="420.5" x2="355.78" y2="420.5" stroke="#000" stroke-width="1" />
<line x1="353.18" y1="414.35" x2="354.78" y2="414.35" stroke="#000" stroke-width="1" />
<line x1="353.18" y1="408.2" x2="355.78" y2="408.2" stroke="#000" stroke-width="1" />
<line x1="353.18" y1="402.05" x2="354.78" y2="402.05" stroke="#000" stroke-width="1" />
<line x1="353.18" y1="395.9" x2="355.78" y2="395.9" stroke="#000" stroke-width="1" />
<line x1="353.18" y1="389.75" x2="354.78" y2="389.75" stroke="#000" stroke-width="1" />
<line x1="353.18" y1="383.6" x2="355.78" y2="383.6" stroke="#000" stroke-width="1" />
<line x1="353.18" y1="471.6" x2="355.78" y2="471.6" stroke="#000" stroke-width="1" />
<line x1="353.18" y1="464.22" x2="354.78" y2="464.22" stroke="#000" stroke-width="1" />
<line x1="353.18" y1="456.84" x2="355.78" y2="456.84" stroke="#000" stroke-width="1" />
<line x1="353.18" y1="449.46" x2="354.78" y2="449.46" stroke="#000" stroke-width="1" />
<line x1="353.18" y1="442.08" x2="355.78" y2="442.08" stroke="#000" stroke-width="1" />
<line x1="353.18" y1="434.7" x2="354.78" y2="434.7" stroke="#000" stroke-width="1" />
<line x1="353.18" y1="514.4" x2="355.78" y2="514.4" stroke="#000" stroke-width="1" />
<line x1="353.18" y1="507.55" x2="354.78" y2="507.55" stroke="#000" stroke-width="1" />
<line x1="353.18" y1="500.7" x2="355.78" y2="500.7" stroke="#000" stroke-width="1" />
<line x1="353.18" y1="493.85" x2="354.78" y2="493.85" stroke="#000" stroke-width="1" />
<line x1="353.18" y1="487" x2="355.78" y2="487" stroke="#000" stroke-width="1" />
<line x1="353.18" y1="480.15" x2="354.78" y2="480.15" stroke="#000" stroke-width="1" />
<text x="355.28" y="535.4" font-size="10.4" fill="#000" font-weight="bold" text-anchor="middle" transform="translate(355.28 535.4) scale(0.76 1) translate(-355.28 -535.4)" stroke="#000" stroke-width="0.3">10</text>
<text x="365.44" y="535.4" font-size="10.4" fill="#000" font-weight="bold" text-anchor="middle" transform="translate(365.44 535.4) scale(0.78 1) translate(-365.44 -535.4)" stroke="#000" stroke-width="0.3">8</text>
<text x="375.2" y="535.4" font-size="10.4" fill="#000" font-weight="bold" text-anchor="middle" transform="translate(375.2 535.4) scale(0.78 1) translate(-375.2 -535.4)" stroke="#000" stroke-width="0.3">6</text>
<text x="384.96" y="535.4" font-size="10.4" fill="#000" font-weight="bold" text-anchor="middle" transform="translate(384.96 535.4) scale(0.78 1) translate(-384.96 -535.4)" stroke="#000" stroke-width="0.3">4</text>
<text x="394.72" y="535.4" font-size="10.4" fill="#000" font-weight="bold" text-anchor="middle" transform="translate(394.72 535.4) scale(0.78 1) translate(-394.72 -535.4)" stroke="#000" stroke-width="0.3">2</text>
<rect x="435.82" y="425.9" width="4.4" height="97.7" fill="#f2c4c4" stroke="none" stroke-width="1" rx="0" />
<line x1="402.46" y1="414.35" x2="443.66" y2="414.35" stroke="#ff8cff" stroke-width="3.9" />
<text x="423.86" y="407.2" font-size="11.2" fill="#ff66ff" font-weight="bold" text-anchor="middle">1.70 V</text>
<polyline points="403.86,434.7 408.74,434.7 413.62,434.7 418.5,434.7 423.38,434.7 428.26,434.7 433.14,438.14 438.02,464.71 442.9,464.71" fill="none" stroke="#ff8cff" stroke-width="1.9" />
<polyline points="403.86,519.33 408.74,519.33 413.62,519.33 418.5,519.33 423.38,519.33 428.26,519.33 433.14,517.69 438.02,486.45 442.9,484.81" fill="none" stroke="#ff8cff" stroke-width="1.9" />
<circle cx="403.86" cy="434.7" r="2.85" fill="#ff8cff" />
<circle cx="408.74" cy="434.7" r="2.85" fill="#ff8cff" />
<circle cx="413.62" cy="434.7" r="2.85" fill="#ff8cff" />
<circle cx="418.5" cy="434.7" r="2.85" fill="#ff8cff" />
<circle cx="423.38" cy="434.7" r="2.85" fill="#ff8cff" />
<circle cx="428.26" cy="434.7" r="2.85" fill="#ff8cff" />
<circle cx="433.14" cy="438.14" r="2.85" fill="#ff8cff" />
<circle cx="438.02" cy="464.71" r="2.85" fill="#ff8cff" />
<circle cx="442.9" cy="464.71" r="2.85" fill="#ff8cff" />
<circle cx="403.86" cy="519.33" r="2.85" fill="#ff8cff" />
<circle cx="408.74" cy="519.33" r="2.85" fill="#ff8cff" />
<circle cx="413.62" cy="519.33" r="2.85" fill="#ff8cff" />
<circle cx="418.5" cy="519.33" r="2.85" fill="#ff8cff" />
<circle cx="423.38" cy="519.33" r="2.85" fill="#ff8cff" />
<circle cx="428.26" cy="519.33" r="2.85" fill="#ff8cff" />
<circle cx="433.14" cy="517.69" r="2.85" fill="#ff8cff" />
<circle cx="438.02" cy="486.45" r="2.85" fill="#ff8cff" />
<circle cx="442.9" cy="484.81" r="2.85" fill="#ff8cff" />
<rect x="401.46" y="377.5" width="43.2" height="146.1" fill="none" stroke="#000" stroke-width="1.6" rx="0" />
<line x1="401.46" y1="425.9" x2="444.66" y2="425.9" stroke="#000" stroke-width="1.6" />
<line x1="401.46" y1="474.9" x2="444.66" y2="474.9" stroke="#000" stroke-width="1.6" />
<line x1="403.86" y1="425.9" x2="403.86" y2="423.3" stroke="#000" stroke-width="1" />
<line x1="408.74" y1="425.9" x2="408.74" y2="424.3" stroke="#000" stroke-width="1" />
<line x1="413.62" y1="425.9" x2="413.62" y2="423.3" stroke="#000" stroke-width="1" />
<line x1="418.5" y1="425.9" x2="418.5" y2="424.3" stroke="#000" stroke-width="1" />
<line x1="423.38" y1="425.9" x2="423.38" y2="423.3" stroke="#000" stroke-width="1" />
<line x1="428.26" y1="425.9" x2="428.26" y2="424.3" stroke="#000" stroke-width="1" />
<line x1="433.14" y1="425.9" x2="433.14" y2="423.3" stroke="#000" stroke-width="1" />
<line x1="438.02" y1="425.9" x2="438.02" y2="424.3" stroke="#000" stroke-width="1" />
<line x1="442.9" y1="425.9" x2="442.9" y2="423.3" stroke="#000" stroke-width="1" />
<line x1="403.86" y1="474.9" x2="403.86" y2="472.3" stroke="#000" stroke-width="1" />
<line x1="408.74" y1="474.9" x2="408.74" y2="473.3" stroke="#000" stroke-width="1" />
<line x1="413.62" y1="474.9" x2="413.62" y2="472.3" stroke="#000" stroke-width="1" />
<line x1="418.5" y1="474.9" x2="418.5" y2="473.3" stroke="#000" stroke-width="1" />
<line x1="423.38" y1="474.9" x2="423.38" y2="472.3" stroke="#000" stroke-width="1" />
<line x1="428.26" y1="474.9" x2="428.26" y2="473.3" stroke="#000" stroke-width="1" />
<line x1="433.14" y1="474.9" x2="433.14" y2="472.3" stroke="#000" stroke-width="1" />
<line x1="438.02" y1="474.9" x2="438.02" y2="473.3" stroke="#000" stroke-width="1" />
<line x1="442.9" y1="474.9" x2="442.9" y2="472.3" stroke="#000" stroke-width="1" />
<line x1="403.86" y1="523.6" x2="403.86" y2="521" stroke="#000" stroke-width="1" />
<line x1="408.74" y1="523.6" x2="408.74" y2="522" stroke="#000" stroke-width="1" />
<line x1="413.62" y1="523.6" x2="413.62" y2="521" stroke="#000" stroke-width="1" />
<line x1="418.5" y1="523.6" x2="418.5" y2="522" stroke="#000" stroke-width="1" />
<line x1="423.38" y1="523.6" x2="423.38" y2="521" stroke="#000" stroke-width="1" />
<line x1="428.26" y1="523.6" x2="428.26" y2="522" stroke="#000" stroke-width="1" />
<line x1="433.14" y1="523.6" x2="433.14" y2="521" stroke="#000" stroke-width="1" />
<line x1="438.02" y1="523.6" x2="438.02" y2="522" stroke="#000" stroke-width="1" />
<line x1="442.9" y1="523.6" x2="442.9" y2="521" stroke="#000" stroke-width="1" />
<line x1="401.46" y1="420.5" x2="404.06" y2="420.5" stroke="#000" stroke-width="1" />
<line x1="401.46" y1="414.35" x2="403.06" y2="414.35" stroke="#000" stroke-width="1" />
<line x1="401.46" y1="408.2" x2="404.06" y2="408.2" stroke="#000" stroke-width="1" />
<line x1="401.46" y1="402.05" x2="403.06" y2="402.05" stroke="#000" stroke-width="1" />
<line x1="401.46" y1="395.9" x2="404.06" y2="395.9" stroke="#000" stroke-width="1" />
<line x1="401.46" y1="389.75" x2="403.06" y2="389.75" stroke="#000" stroke-width="1" />
<line x1="401.46" y1="383.6" x2="404.06" y2="383.6" stroke="#000" stroke-width="1" />
<line x1="401.46" y1="471.6" x2="404.06" y2="471.6" stroke="#000" stroke-width="1" />
<line x1="401.46" y1="464.22" x2="403.06" y2="464.22" stroke="#000" stroke-width="1" />
<line x1="401.46" y1="456.84" x2="404.06" y2="456.84" stroke="#000" stroke-width="1" />
<line x1="401.46" y1="449.46" x2="403.06" y2="449.46" stroke="#000" stroke-width="1" />
<line x1="401.46" y1="442.08" x2="404.06" y2="442.08" stroke="#000" stroke-width="1" />
<line x1="401.46" y1="434.7" x2="403.06" y2="434.7" stroke="#000" stroke-width="1" />
<line x1="401.46" y1="514.4" x2="404.06" y2="514.4" stroke="#000" stroke-width="1" />
<line x1="401.46" y1="507.55" x2="403.06" y2="507.55" stroke="#000" stroke-width="1" />
<line x1="401.46" y1="500.7" x2="404.06" y2="500.7" stroke="#000" stroke-width="1" />
<line x1="401.46" y1="493.85" x2="403.06" y2="493.85" stroke="#000" stroke-width="1" />
<line x1="401.46" y1="487" x2="404.06" y2="487" stroke="#000" stroke-width="1" />
<line x1="401.46" y1="480.15" x2="403.06" y2="480.15" stroke="#000" stroke-width="1" />
<text x="403.56" y="535.4" font-size="10.4" fill="#000" font-weight="bold" text-anchor="middle" transform="translate(403.56 535.4) scale(0.76 1) translate(-403.56 -535.4)" stroke="#000" stroke-width="0.3">10</text>
<text x="413.72" y="535.4" font-size="10.4" fill="#000" font-weight="bold" text-anchor="middle" transform="translate(413.72 535.4) scale(0.78 1) translate(-413.72 -535.4)" stroke="#000" stroke-width="0.3">8</text>
<text x="423.48" y="535.4" font-size="10.4" fill="#000" font-weight="bold" text-anchor="middle" transform="translate(423.48 535.4) scale(0.78 1) translate(-423.48 -535.4)" stroke="#000" stroke-width="0.3">6</text>
<text x="433.24" y="535.4" font-size="10.4" fill="#000" font-weight="bold" text-anchor="middle" transform="translate(433.24 535.4) scale(0.78 1) translate(-433.24 -535.4)" stroke="#000" stroke-width="0.3">4</text>
<text x="443" y="535.4" font-size="10.4" fill="#000" font-weight="bold" text-anchor="middle" transform="translate(443 535.4) scale(0.78 1) translate(-443 -535.4)" stroke="#000" stroke-width="0.3">2</text>
<rect x="488.98" y="425.9" width="3.96" height="97.7" fill="#f2c4c4" stroke="none" stroke-width="1" rx="0" />
<line x1="450.74" y1="418.04" x2="491.94" y2="418.04" stroke="#ff00ff" stroke-width="3.9" />
<text x="472.14" y="411.3" font-size="11.2" fill="#ee00ee" font-weight="bold" text-anchor="middle">1.64 V</text>
<polyline points="452.14,434.7 457.02,434.7 461.9,434.7 466.78,434.7 471.66,434.7 476.54,434.7 481.42,434.7 486.3,432.24 491.18,465.2" fill="none" stroke="#ff00ff" stroke-width="1.9" />
<polyline points="452.14,519.33 457.02,519.33 461.9,519.33 466.78,519.33 471.66,519.33 476.54,519.33 481.42,519.33 486.3,519.33 491.18,484.81" fill="none" stroke="#ff00ff" stroke-width="1.9" />
<circle cx="452.14" cy="434.7" r="2.85" fill="#ff00ff" />
<circle cx="457.02" cy="434.7" r="2.85" fill="#ff00ff" />
<circle cx="461.9" cy="434.7" r="2.85" fill="#ff00ff" />
<circle cx="466.78" cy="434.7" r="2.85" fill="#ff00ff" />
<circle cx="471.66" cy="434.7" r="2.85" fill="#ff00ff" />
<circle cx="476.54" cy="434.7" r="2.85" fill="#ff00ff" />
<circle cx="481.42" cy="434.7" r="2.85" fill="#ff00ff" />
<circle cx="486.3" cy="432.24" r="2.85" fill="#ff00ff" />
<circle cx="491.18" cy="465.2" r="2.85" fill="#ff00ff" />
<circle cx="452.14" cy="519.33" r="2.85" fill="#ff00ff" />
<circle cx="457.02" cy="519.33" r="2.85" fill="#ff00ff" />
<circle cx="461.9" cy="519.33" r="2.85" fill="#ff00ff" />
<circle cx="466.78" cy="519.33" r="2.85" fill="#ff00ff" />
<circle cx="471.66" cy="519.33" r="2.85" fill="#ff00ff" />
<circle cx="476.54" cy="519.33" r="2.85" fill="#ff00ff" />
<circle cx="481.42" cy="519.33" r="2.85" fill="#ff00ff" />
<circle cx="486.3" cy="519.33" r="2.85" fill="#ff00ff" />
<circle cx="491.18" cy="484.81" r="2.85" fill="#ff00ff" />
<rect x="449.74" y="377.5" width="43.2" height="146.1" fill="none" stroke="#000" stroke-width="1.6" rx="0" />
<line x1="449.74" y1="425.9" x2="492.94" y2="425.9" stroke="#000" stroke-width="1.6" />
<line x1="449.74" y1="474.9" x2="492.94" y2="474.9" stroke="#000" stroke-width="1.6" />
<line x1="452.14" y1="425.9" x2="452.14" y2="423.3" stroke="#000" stroke-width="1" />
<line x1="457.02" y1="425.9" x2="457.02" y2="424.3" stroke="#000" stroke-width="1" />
<line x1="461.9" y1="425.9" x2="461.9" y2="423.3" stroke="#000" stroke-width="1" />
<line x1="466.78" y1="425.9" x2="466.78" y2="424.3" stroke="#000" stroke-width="1" />
<line x1="471.66" y1="425.9" x2="471.66" y2="423.3" stroke="#000" stroke-width="1" />
<line x1="476.54" y1="425.9" x2="476.54" y2="424.3" stroke="#000" stroke-width="1" />
<line x1="481.42" y1="425.9" x2="481.42" y2="423.3" stroke="#000" stroke-width="1" />
<line x1="486.3" y1="425.9" x2="486.3" y2="424.3" stroke="#000" stroke-width="1" />
<line x1="491.18" y1="425.9" x2="491.18" y2="423.3" stroke="#000" stroke-width="1" />
<line x1="452.14" y1="474.9" x2="452.14" y2="472.3" stroke="#000" stroke-width="1" />
<line x1="457.02" y1="474.9" x2="457.02" y2="473.3" stroke="#000" stroke-width="1" />
<line x1="461.9" y1="474.9" x2="461.9" y2="472.3" stroke="#000" stroke-width="1" />
<line x1="466.78" y1="474.9" x2="466.78" y2="473.3" stroke="#000" stroke-width="1" />
<line x1="471.66" y1="474.9" x2="471.66" y2="472.3" stroke="#000" stroke-width="1" />
<line x1="476.54" y1="474.9" x2="476.54" y2="473.3" stroke="#000" stroke-width="1" />
<line x1="481.42" y1="474.9" x2="481.42" y2="472.3" stroke="#000" stroke-width="1" />
<line x1="486.3" y1="474.9" x2="486.3" y2="473.3" stroke="#000" stroke-width="1" />
<line x1="491.18" y1="474.9" x2="491.18" y2="472.3" stroke="#000" stroke-width="1" />
<line x1="452.14" y1="523.6" x2="452.14" y2="521" stroke="#000" stroke-width="1" />
<line x1="457.02" y1="523.6" x2="457.02" y2="522" stroke="#000" stroke-width="1" />
<line x1="461.9" y1="523.6" x2="461.9" y2="521" stroke="#000" stroke-width="1" />
<line x1="466.78" y1="523.6" x2="466.78" y2="522" stroke="#000" stroke-width="1" />
<line x1="471.66" y1="523.6" x2="471.66" y2="521" stroke="#000" stroke-width="1" />
<line x1="476.54" y1="523.6" x2="476.54" y2="522" stroke="#000" stroke-width="1" />
<line x1="481.42" y1="523.6" x2="481.42" y2="521" stroke="#000" stroke-width="1" />
<line x1="486.3" y1="523.6" x2="486.3" y2="522" stroke="#000" stroke-width="1" />
<line x1="491.18" y1="523.6" x2="491.18" y2="521" stroke="#000" stroke-width="1" />
<line x1="449.74" y1="420.5" x2="452.34" y2="420.5" stroke="#000" stroke-width="1" />
<line x1="449.74" y1="414.35" x2="451.34" y2="414.35" stroke="#000" stroke-width="1" />
<line x1="449.74" y1="408.2" x2="452.34" y2="408.2" stroke="#000" stroke-width="1" />
<line x1="449.74" y1="402.05" x2="451.34" y2="402.05" stroke="#000" stroke-width="1" />
<line x1="449.74" y1="395.9" x2="452.34" y2="395.9" stroke="#000" stroke-width="1" />
<line x1="449.74" y1="389.75" x2="451.34" y2="389.75" stroke="#000" stroke-width="1" />
<line x1="449.74" y1="383.6" x2="452.34" y2="383.6" stroke="#000" stroke-width="1" />
<line x1="449.74" y1="471.6" x2="452.34" y2="471.6" stroke="#000" stroke-width="1" />
<line x1="449.74" y1="464.22" x2="451.34" y2="464.22" stroke="#000" stroke-width="1" />
<line x1="449.74" y1="456.84" x2="452.34" y2="456.84" stroke="#000" stroke-width="1" />
<line x1="449.74" y1="449.46" x2="451.34" y2="449.46" stroke="#000" stroke-width="1" />
<line x1="449.74" y1="442.08" x2="452.34" y2="442.08" stroke="#000" stroke-width="1" />
<line x1="449.74" y1="434.7" x2="451.34" y2="434.7" stroke="#000" stroke-width="1" />
<line x1="449.74" y1="514.4" x2="452.34" y2="514.4" stroke="#000" stroke-width="1" />
<line x1="449.74" y1="507.55" x2="451.34" y2="507.55" stroke="#000" stroke-width="1" />
<line x1="449.74" y1="500.7" x2="452.34" y2="500.7" stroke="#000" stroke-width="1" />
<line x1="449.74" y1="493.85" x2="451.34" y2="493.85" stroke="#000" stroke-width="1" />
<line x1="449.74" y1="487" x2="452.34" y2="487" stroke="#000" stroke-width="1" />
<line x1="449.74" y1="480.15" x2="451.34" y2="480.15" stroke="#000" stroke-width="1" />
<text x="451.84" y="535.4" font-size="10.4" fill="#000" font-weight="bold" text-anchor="middle" transform="translate(451.84 535.4) scale(0.76 1) translate(-451.84 -535.4)" stroke="#000" stroke-width="0.3">10</text>
<text x="462" y="535.4" font-size="10.4" fill="#000" font-weight="bold" text-anchor="middle" transform="translate(462 535.4) scale(0.78 1) translate(-462 -535.4)" stroke="#000" stroke-width="0.3">8</text>
<text x="471.76" y="535.4" font-size="10.4" fill="#000" font-weight="bold" text-anchor="middle" transform="translate(471.76 535.4) scale(0.78 1) translate(-471.76 -535.4)" stroke="#000" stroke-width="0.3">6</text>
<text x="481.52" y="535.4" font-size="10.4" fill="#000" font-weight="bold" text-anchor="middle" transform="translate(481.52 535.4) scale(0.78 1) translate(-481.52 -535.4)" stroke="#000" stroke-width="0.3">4</text>
<text x="491.28" y="535.4" font-size="10.4" fill="#000" font-weight="bold" text-anchor="middle" transform="translate(491.28 535.4) scale(0.78 1) translate(-491.28 -535.4)" stroke="#000" stroke-width="0.3">2</text>
<text x="60.2" y="387" font-size="9.5" fill="#000" font-weight="bold" text-anchor="end">2.2</text>
<text x="60.2" y="399.3" font-size="9.5" fill="#000" font-weight="bold" text-anchor="end">2.0</text>
<text x="60.2" y="411.6" font-size="9.5" fill="#000" font-weight="bold" text-anchor="end">1.8</text>
<text x="60.2" y="423.9" font-size="9.5" fill="#000" font-weight="bold" text-anchor="end">1.6</text>
<text x="60.2" y="445.48" font-size="9.5" fill="#000" font-weight="bold" text-anchor="end">0.6</text>
<text x="60.2" y="460.24" font-size="9.5" fill="#000" font-weight="bold" text-anchor="end">0.3</text>
<text x="60.2" y="475" font-size="9.5" fill="#000" font-weight="bold" text-anchor="end">0.0</text>
<text x="60.2" y="490.4" font-size="9.5" fill="#000" font-weight="bold" text-anchor="end">0.25</text>
<text x="60.2" y="504.1" font-size="9.5" fill="#000" font-weight="bold" text-anchor="end">0.20</text>
<text x="60.2" y="517.8" font-size="9.5" fill="#000" font-weight="bold" text-anchor="end">0.15</text>
<text x="34.4" y="401.5" font-size="11" fill="#ff0000" font-weight="bold" text-anchor="middle" transform="rotate(-90 34.4 401.5)"><tspan font-size="11">V</tspan><tspan dy="3.08" font-size="7.04">REF</tspan><tspan dy="-3.08" font-size="11"> (V)</tspan></text>
<text x="34.4" y="448.5" font-size="11" fill="#000" font-weight="bold" text-anchor="middle" transform="rotate(-90 34.4 448.5)"><tspan font-size="11">R</tspan><tspan dy="3.08" font-size="7.04">MP</tspan><tspan dy="-3.08" font-size="11"> (kΩ)</tspan></text>
<text x="34.4" y="500.5" font-size="11" fill="#000" font-weight="bold" text-anchor="middle" transform="rotate(-90 34.4 500.5)"><tspan font-size="11">V</tspan><tspan dy="3.08" font-size="7.04">OUTR</tspan><tspan dy="-3.08" font-size="11"> (V)</tspan></text>
<text x="265.6" y="550.2" font-size="11.4" fill="#000" font-weight="bold" text-anchor="middle">pH value</text>
<text x="513.4" y="368.2" font-size="12.2" fill="#000" font-weight="bold" text-anchor="start">(f)</text>
<line x1="558.4" y1="376.1" x2="558.4" y2="525.8" stroke="#ececec" stroke-width="0.8" />
<line x1="581.35" y1="376.1" x2="581.35" y2="525.8" stroke="#ececec" stroke-width="0.8" />
<line x1="604.3" y1="376.1" x2="604.3" y2="525.8" stroke="#ececec" stroke-width="0.8" />
<line x1="627.25" y1="376.1" x2="627.25" y2="525.8" stroke="#ececec" stroke-width="0.8" />
<line x1="650.2" y1="376.1" x2="650.2" y2="525.8" stroke="#ececec" stroke-width="0.8" />
<line x1="546.6" y1="502.88" x2="661.8" y2="502.88" stroke="#ececec" stroke-width="0.8" />
<line x1="546.6" y1="479.96" x2="661.8" y2="479.96" stroke="#ececec" stroke-width="0.8" />
<line x1="546.6" y1="457.04" x2="661.8" y2="457.04" stroke="#ececec" stroke-width="0.8" />
<line x1="546.6" y1="434.12" x2="661.8" y2="434.12" stroke="#ececec" stroke-width="0.8" />
<line x1="546.6" y1="411.2" x2="661.8" y2="411.2" stroke="#ececec" stroke-width="0.8" />
<line x1="546.6" y1="388.28" x2="661.8" y2="388.28" stroke="#ececec" stroke-width="0.8" />
<rect x="552.4" y="433.5" width="65.5" height="15.2" fill="#4472c4" stroke="none" stroke-width="1" rx="0" />
<text x="556.6" y="445" font-size="10.8" fill="#ffffff" font-weight="bold" text-anchor="start">y = a*x + b</text>
<rect x="552.4" y="450.8" width="65.5" height="28.2" fill="#cdd3e8" stroke="none" stroke-width="1" rx="0" />
<rect x="552.4" y="480.2" width="65.5" height="41.4" fill="#e8ebf4" stroke="none" stroke-width="1" rx="0" />
<text x="557.2" y="463.3" font-size="10.6" fill="#000" font-weight="bold" text-anchor="start">Pearson’s r</text>
<text x="557.2" y="475.6" font-size="10.6" fill="#000" font-weight="bold" text-anchor="start">= 0.981</text>
<text x="557.2" y="493" font-size="10.6" fill="#000" font-weight="bold" text-anchor="start">Slope (a)</text>
<text x="557.2" y="505.3" font-size="10.6" fill="#000" font-weight="bold" text-anchor="start">= 0.068</text>
<text x="566.6" y="517.9" font-size="10.6" fill="#000" font-weight="bold" text-anchor="start">±0.006</text>
<line x1="560.6" y1="389" x2="649.8" y2="449.9" stroke="#000" stroke-width="2.3" />
<circle cx="558.4" cy="388.28" r="4" fill="#0000ff" />
<circle cx="569.88" cy="395.16" r="4" fill="#0000ff" />
<circle cx="581.35" cy="399.74" r="4" fill="#0000ff" />
<circle cx="592.82" cy="406.62" r="4" fill="#0000ff" />
<circle cx="604.3" cy="411.2" r="4" fill="#0000ff" />
<circle cx="615.77" cy="422.66" r="4" fill="#0000ff" />
<circle cx="627.25" cy="441" r="4" fill="#0000ff" />
<circle cx="638.73" cy="445.58" r="4" fill="#0000ff" />
<circle cx="650.2" cy="452.46" r="4" fill="#0000ff" />
<rect x="546.6" y="376.1" width="115.2" height="149.7" fill="none" stroke="#000" stroke-width="1.6" rx="0" />
<line x1="558.4" y1="525.8" x2="558.4" y2="523" stroke="#000" stroke-width="1" />
<line x1="558.4" y1="376.1" x2="558.4" y2="378.9" stroke="#000" stroke-width="1" />
<line x1="569.88" y1="525.8" x2="569.88" y2="524.2" stroke="#000" stroke-width="1" />
<line x1="569.88" y1="376.1" x2="569.88" y2="377.7" stroke="#000" stroke-width="1" />
<line x1="581.35" y1="525.8" x2="581.35" y2="523" stroke="#000" stroke-width="1" />
<line x1="581.35" y1="376.1" x2="581.35" y2="378.9" stroke="#000" stroke-width="1" />
<line x1="592.82" y1="525.8" x2="592.82" y2="524.2" stroke="#000" stroke-width="1" />
<line x1="592.82" y1="376.1" x2="592.82" y2="377.7" stroke="#000" stroke-width="1" />
<line x1="604.3" y1="525.8" x2="604.3" y2="523" stroke="#000" stroke-width="1" />
<line x1="604.3" y1="376.1" x2="604.3" y2="378.9" stroke="#000" stroke-width="1" />
<line x1="615.77" y1="525.8" x2="615.77" y2="524.2" stroke="#000" stroke-width="1" />
<line x1="615.77" y1="376.1" x2="615.77" y2="377.7" stroke="#000" stroke-width="1" />
<line x1="627.25" y1="525.8" x2="627.25" y2="523" stroke="#000" stroke-width="1" />
<line x1="627.25" y1="376.1" x2="627.25" y2="378.9" stroke="#000" stroke-width="1" />
<line x1="638.73" y1="525.8" x2="638.73" y2="524.2" stroke="#000" stroke-width="1" />
<line x1="638.73" y1="376.1" x2="638.73" y2="377.7" stroke="#000" stroke-width="1" />
<line x1="650.2" y1="525.8" x2="650.2" y2="523" stroke="#000" stroke-width="1" />
<line x1="650.2" y1="376.1" x2="650.2" y2="378.9" stroke="#000" stroke-width="1" />
<line x1="546.6" y1="525.8" x2="549.4" y2="525.8" stroke="#000" stroke-width="1" />
<line x1="661.8" y1="525.8" x2="659" y2="525.8" stroke="#000" stroke-width="1" />
<line x1="546.6" y1="514.34" x2="548.2" y2="514.34" stroke="#000" stroke-width="1" />
<line x1="661.8" y1="514.34" x2="660.2" y2="514.34" stroke="#000" stroke-width="1" />
<line x1="546.6" y1="502.88" x2="549.4" y2="502.88" stroke="#000" stroke-width="1" />
<line x1="661.8" y1="502.88" x2="659" y2="502.88" stroke="#000" stroke-width="1" />
<line x1="546.6" y1="491.42" x2="548.2" y2="491.42" stroke="#000" stroke-width="1" />
<line x1="661.8" y1="491.42" x2="660.2" y2="491.42" stroke="#000" stroke-width="1" />
<line x1="546.6" y1="479.96" x2="549.4" y2="479.96" stroke="#000" stroke-width="1" />
<line x1="661.8" y1="479.96" x2="659" y2="479.96" stroke="#000" stroke-width="1" />
<line x1="546.6" y1="468.5" x2="548.2" y2="468.5" stroke="#000" stroke-width="1" />
<line x1="661.8" y1="468.5" x2="660.2" y2="468.5" stroke="#000" stroke-width="1" />
<line x1="546.6" y1="457.04" x2="549.4" y2="457.04" stroke="#000" stroke-width="1" />
<line x1="661.8" y1="457.04" x2="659" y2="457.04" stroke="#000" stroke-width="1" />
<line x1="546.6" y1="445.58" x2="548.2" y2="445.58" stroke="#000" stroke-width="1" />
<line x1="661.8" y1="445.58" x2="660.2" y2="445.58" stroke="#000" stroke-width="1" />
<line x1="546.6" y1="434.12" x2="549.4" y2="434.12" stroke="#000" stroke-width="1" />
<line x1="661.8" y1="434.12" x2="659" y2="434.12" stroke="#000" stroke-width="1" />
<line x1="546.6" y1="422.66" x2="548.2" y2="422.66" stroke="#000" stroke-width="1" />
<line x1="661.8" y1="422.66" x2="660.2" y2="422.66" stroke="#000" stroke-width="1" />
<line x1="546.6" y1="411.2" x2="549.4" y2="411.2" stroke="#000" stroke-width="1" />
<line x1="661.8" y1="411.2" x2="659" y2="411.2" stroke="#000" stroke-width="1" />
<line x1="546.6" y1="399.74" x2="548.2" y2="399.74" stroke="#000" stroke-width="1" />
<line x1="661.8" y1="399.74" x2="660.2" y2="399.74" stroke="#000" stroke-width="1" />
<line x1="546.6" y1="388.28" x2="549.4" y2="388.28" stroke="#000" stroke-width="1" />
<line x1="661.8" y1="388.28" x2="659" y2="388.28" stroke="#000" stroke-width="1" />
<text x="544.6" y="529.7" font-size="11" fill="#000" font-weight="bold" text-anchor="end">1.0</text>
<text x="544.6" y="506.78" font-size="11" fill="#000" font-weight="bold" text-anchor="end">1.2</text>
<text x="544.6" y="483.86" font-size="11" fill="#000" font-weight="bold" text-anchor="end">1.4</text>
<text x="544.6" y="460.94" font-size="11" fill="#000" font-weight="bold" text-anchor="end">1.6</text>
<text x="544.6" y="438.02" font-size="11" fill="#000" font-weight="bold" text-anchor="end">1.8</text>
<text x="544.6" y="415.1" font-size="11" fill="#000" font-weight="bold" text-anchor="end">2.0</text>
<text x="544.6" y="392.18" font-size="11" fill="#000" font-weight="bold" text-anchor="end">2.2</text>
<text x="558.4" y="537.7" font-size="11" fill="#000" font-weight="bold" text-anchor="middle">10</text>
<text x="581.35" y="537.7" font-size="11" fill="#000" font-weight="bold" text-anchor="middle">8</text>
<text x="604.3" y="537.7" font-size="11" fill="#000" font-weight="bold" text-anchor="middle">6</text>
<text x="627.25" y="537.7" font-size="11" fill="#000" font-weight="bold" text-anchor="middle">4</text>
<text x="650.2" y="537.7" font-size="11" fill="#000" font-weight="bold" text-anchor="middle">2</text>
<text x="603.6" y="549.1" font-size="11" fill="#000" font-weight="bold" text-anchor="middle">pH value</text>
<text x="523.8" y="450" font-size="11.5" fill="#000" font-weight="bold" text-anchor="middle" transform="rotate(-90 523.8 450)"><tspan font-size="11.5">Threshold V</tspan><tspan dy="3.22" font-size="7.36">REF</tspan><tspan dy="-3.22" font-size="11.5"> (V)</tspan></text></svg>
</body></html>
